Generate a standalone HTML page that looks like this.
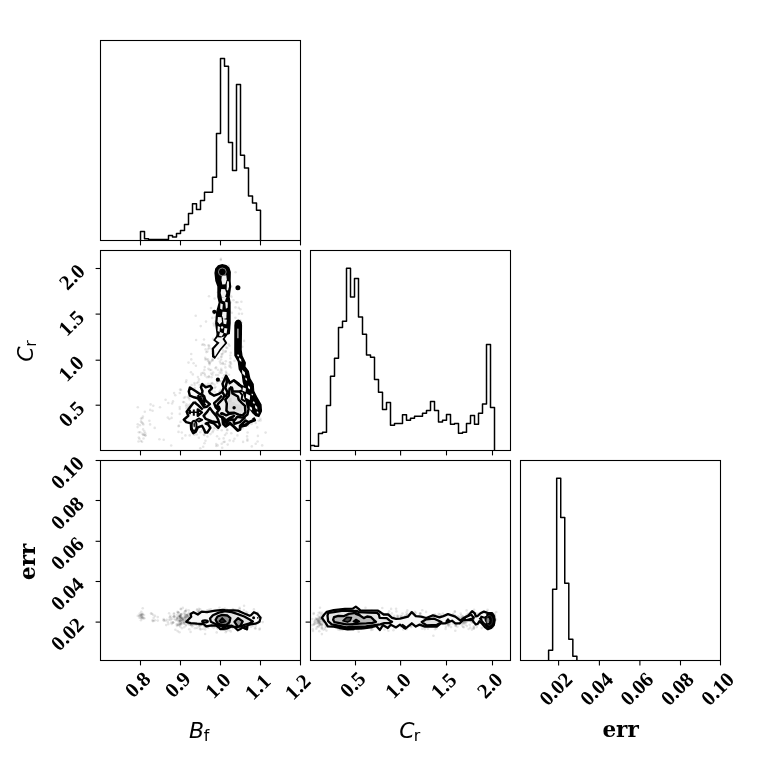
<!DOCTYPE html>
<html lang="en"><head><meta charset="utf-8"><title>Corner plot</title>
<style>html,body{margin:0;padding:0;background:#fff}svg{display:block}</style>
</head><body>
<svg width="760" height="760" viewBox="0 0 760 760">
<rect width="760" height="760" fill="#fff"/>
<defs>
<clipPath id="cp-h1"><rect x="100.5" y="40.5" width="200.0" height="200.0"/></clipPath>
<clipPath id="cp-c10"><rect x="100.5" y="250.5" width="200.0" height="200.0"/></clipPath>
<clipPath id="cp-h2"><rect x="310.5" y="250.5" width="200.0" height="200.0"/></clipPath>
<clipPath id="cp-c20"><rect x="100.5" y="460.5" width="200.0" height="200.0"/></clipPath>
<clipPath id="cp-c21"><rect x="310.5" y="460.5" width="200.0" height="200.0"/></clipPath>
<clipPath id="cp-h3"><rect x="520.5" y="460.5" width="200.0" height="200.0"/></clipPath>
</defs>
<g clip-path="url(#cp-c10)">
<g fill="#000" fill-opacity="0.1"><circle cx="160.0" cy="407.2" r="1.3"/><circle cx="172.1" cy="403.5" r="1.3"/><circle cx="167.8" cy="417.6" r="1.3"/><circle cx="150.1" cy="424.4" r="1.3"/><circle cx="149.4" cy="420.8" r="1.3"/><circle cx="150.6" cy="404.4" r="1.3"/><circle cx="163.7" cy="439.7" r="1.3"/><circle cx="152.6" cy="410.7" r="1.3"/><circle cx="171.2" cy="445.5" r="1.3"/><circle cx="169.4" cy="419.0" r="1.3"/><circle cx="184.1" cy="402.2" r="1.3"/><circle cx="179.8" cy="413.9" r="1.3"/><circle cx="153.3" cy="405.7" r="1.3"/><circle cx="159.4" cy="439.2" r="1.3"/><circle cx="154.7" cy="427.9" r="1.3"/><circle cx="171.6" cy="417.9" r="1.3"/><circle cx="168.3" cy="403.0" r="1.3"/><circle cx="150.2" cy="409.9" r="1.3"/></g>
<g fill="#000" fill-opacity="0.1"><circle cx="141.0" cy="421.4" r="1.3"/><circle cx="140.9" cy="441.0" r="1.3"/><circle cx="140.2" cy="432.2" r="1.3"/><circle cx="142.9" cy="416.6" r="1.3"/><circle cx="142.1" cy="441.8" r="1.3"/><circle cx="137.6" cy="427.1" r="1.3"/><circle cx="141.8" cy="422.6" r="1.3"/><circle cx="143.1" cy="429.4" r="1.3"/><circle cx="138.8" cy="437.5" r="1.3"/><circle cx="143.5" cy="438.5" r="1.3"/><circle cx="145.2" cy="433.3" r="1.3"/><circle cx="142.3" cy="418.3" r="1.3"/><circle cx="143.4" cy="424.5" r="1.3"/><circle cx="141.0" cy="418.6" r="1.3"/><circle cx="139.9" cy="425.2" r="1.3"/><circle cx="144.8" cy="411.7" r="1.3"/><circle cx="138.8" cy="432.2" r="1.3"/><circle cx="145.2" cy="435.2" r="1.3"/><circle cx="137.8" cy="407.3" r="1.3"/><circle cx="142.8" cy="423.4" r="1.3"/><circle cx="139.5" cy="438.8" r="1.3"/><circle cx="144.4" cy="431.4" r="1.3"/><circle cx="142.5" cy="433.9" r="1.3"/><circle cx="145.5" cy="435.6" r="1.3"/><circle cx="143.1" cy="434.9" r="1.3"/><circle cx="138.5" cy="441.5" r="1.3"/><circle cx="144.1" cy="434.8" r="1.3"/><circle cx="137.7" cy="424.3" r="1.3"/></g>
<g fill="#000" fill-opacity="0.1"><circle cx="226.3" cy="377.2" r="1.3"/><circle cx="208.9" cy="425.3" r="1.3"/><circle cx="189.7" cy="435.4" r="1.3"/><circle cx="221.4" cy="405.4" r="1.3"/><circle cx="217.5" cy="419.0" r="1.3"/><circle cx="214.0" cy="427.5" r="1.3"/><circle cx="200.8" cy="400.9" r="1.3"/><circle cx="229.7" cy="408.5" r="1.3"/><circle cx="197.0" cy="424.1" r="1.3"/><circle cx="236.9" cy="400.4" r="1.3"/><circle cx="188.5" cy="405.7" r="1.3"/><circle cx="209.5" cy="402.9" r="1.3"/><circle cx="235.9" cy="390.5" r="1.3"/><circle cx="233.4" cy="386.4" r="1.3"/><circle cx="198.6" cy="418.7" r="1.3"/><circle cx="231.2" cy="422.6" r="1.3"/><circle cx="217.9" cy="410.4" r="1.3"/><circle cx="214.6" cy="417.8" r="1.3"/><circle cx="209.0" cy="412.7" r="1.3"/><circle cx="221.7" cy="408.0" r="1.3"/><circle cx="225.0" cy="417.6" r="1.3"/><circle cx="246.2" cy="413.5" r="1.3"/><circle cx="204.7" cy="401.7" r="1.3"/><circle cx="211.8" cy="423.7" r="1.3"/><circle cx="206.3" cy="414.6" r="1.3"/><circle cx="243.2" cy="364.4" r="1.3"/><circle cx="192.9" cy="412.1" r="1.3"/><circle cx="218.8" cy="412.1" r="1.3"/><circle cx="204.7" cy="419.1" r="1.3"/><circle cx="216.8" cy="399.1" r="1.3"/><circle cx="253.3" cy="414.0" r="1.3"/><circle cx="202.6" cy="406.3" r="1.3"/><circle cx="208.2" cy="406.9" r="1.3"/><circle cx="165.6" cy="399.7" r="1.3"/><circle cx="229.1" cy="388.1" r="1.3"/><circle cx="210.9" cy="424.2" r="1.3"/><circle cx="226.6" cy="433.3" r="1.3"/><circle cx="183.1" cy="402.0" r="1.3"/><circle cx="206.2" cy="418.6" r="1.3"/><circle cx="230.6" cy="362.4" r="1.3"/><circle cx="230.5" cy="383.4" r="1.3"/><circle cx="223.6" cy="382.6" r="1.3"/><circle cx="215.0" cy="428.3" r="1.3"/><circle cx="209.5" cy="411.2" r="1.3"/><circle cx="225.6" cy="410.4" r="1.3"/><circle cx="210.5" cy="434.1" r="1.3"/><circle cx="229.8" cy="403.0" r="1.3"/><circle cx="227.5" cy="403.5" r="1.3"/><circle cx="214.3" cy="420.0" r="1.3"/><circle cx="215.8" cy="418.9" r="1.3"/><circle cx="186.0" cy="382.3" r="1.3"/><circle cx="222.5" cy="391.6" r="1.3"/><circle cx="194.5" cy="383.0" r="1.3"/><circle cx="233.5" cy="420.7" r="1.3"/><circle cx="237.0" cy="392.1" r="1.3"/><circle cx="212.0" cy="388.6" r="1.3"/><circle cx="225.0" cy="435.0" r="1.3"/><circle cx="196.9" cy="434.5" r="1.3"/><circle cx="228.8" cy="405.0" r="1.3"/><circle cx="178.5" cy="431.9" r="1.3"/><circle cx="210.4" cy="397.8" r="1.3"/><circle cx="218.8" cy="415.0" r="1.3"/><circle cx="237.5" cy="390.7" r="1.3"/><circle cx="231.3" cy="433.3" r="1.3"/><circle cx="236.7" cy="404.9" r="1.3"/><circle cx="199.4" cy="425.3" r="1.3"/><circle cx="214.0" cy="410.1" r="1.3"/><circle cx="236.2" cy="403.5" r="1.3"/><circle cx="173.0" cy="401.4" r="1.3"/><circle cx="180.5" cy="421.9" r="1.3"/><circle cx="217.4" cy="397.6" r="1.3"/><circle cx="211.8" cy="422.2" r="1.3"/><circle cx="213.3" cy="430.6" r="1.3"/><circle cx="211.0" cy="425.7" r="1.3"/><circle cx="237.4" cy="435.4" r="1.3"/><circle cx="200.6" cy="423.0" r="1.3"/><circle cx="180.1" cy="389.6" r="1.3"/><circle cx="178.6" cy="426.2" r="1.3"/><circle cx="191.1" cy="407.8" r="1.3"/><circle cx="208.7" cy="407.5" r="1.3"/><circle cx="201.9" cy="412.0" r="1.3"/><circle cx="242.5" cy="408.8" r="1.3"/><circle cx="221.0" cy="425.0" r="1.3"/><circle cx="208.6" cy="386.6" r="1.3"/><circle cx="202.6" cy="426.3" r="1.3"/><circle cx="184.0" cy="397.8" r="1.3"/><circle cx="229.1" cy="421.5" r="1.3"/><circle cx="212.1" cy="421.7" r="1.3"/><circle cx="214.8" cy="388.0" r="1.3"/><circle cx="185.4" cy="397.1" r="1.3"/><circle cx="227.7" cy="398.4" r="1.3"/><circle cx="196.7" cy="394.9" r="1.3"/><circle cx="186.0" cy="406.0" r="1.3"/><circle cx="191.9" cy="414.2" r="1.3"/><circle cx="171.9" cy="413.6" r="1.3"/><circle cx="201.1" cy="375.0" r="1.3"/><circle cx="224.3" cy="403.3" r="1.3"/><circle cx="174.1" cy="393.1" r="1.3"/><circle cx="216.9" cy="400.2" r="1.3"/><circle cx="225.3" cy="420.7" r="1.3"/><circle cx="223.3" cy="413.6" r="1.3"/><circle cx="234.7" cy="419.2" r="1.3"/><circle cx="219.7" cy="372.6" r="1.3"/><circle cx="227.2" cy="430.3" r="1.3"/><circle cx="207.0" cy="400.0" r="1.3"/><circle cx="245.0" cy="378.1" r="1.3"/><circle cx="196.2" cy="419.7" r="1.3"/><circle cx="244.1" cy="406.0" r="1.3"/><circle cx="221.5" cy="423.3" r="1.3"/><circle cx="196.6" cy="406.5" r="1.3"/><circle cx="217.0" cy="422.0" r="1.3"/><circle cx="211.4" cy="404.7" r="1.3"/><circle cx="194.7" cy="401.9" r="1.3"/><circle cx="227.2" cy="409.7" r="1.3"/><circle cx="197.5" cy="393.7" r="1.3"/><circle cx="257.3" cy="427.4" r="1.3"/><circle cx="222.8" cy="363.9" r="1.3"/><circle cx="222.6" cy="416.2" r="1.3"/><circle cx="240.6" cy="415.3" r="1.3"/><circle cx="210.9" cy="416.9" r="1.3"/><circle cx="178.9" cy="425.6" r="1.3"/><circle cx="217.5" cy="396.1" r="1.3"/><circle cx="234.5" cy="438.8" r="1.3"/><circle cx="188.2" cy="396.7" r="1.3"/><circle cx="217.0" cy="411.1" r="1.3"/><circle cx="205.2" cy="391.4" r="1.3"/><circle cx="248.0" cy="425.6" r="1.3"/><circle cx="191.7" cy="385.1" r="1.3"/><circle cx="241.0" cy="424.8" r="1.3"/><circle cx="243.0" cy="421.8" r="1.3"/><circle cx="197.2" cy="412.4" r="1.3"/><circle cx="175.3" cy="395.3" r="1.3"/><circle cx="211.0" cy="416.9" r="1.3"/><circle cx="199.6" cy="405.9" r="1.3"/><circle cx="219.8" cy="414.4" r="1.3"/><circle cx="222.8" cy="411.6" r="1.3"/><circle cx="206.5" cy="421.4" r="1.3"/><circle cx="212.8" cy="394.0" r="1.3"/><circle cx="201.4" cy="408.0" r="1.3"/><circle cx="210.1" cy="410.7" r="1.3"/><circle cx="212.0" cy="411.0" r="1.3"/><circle cx="209.7" cy="386.6" r="1.3"/><circle cx="219.2" cy="425.9" r="1.3"/><circle cx="219.4" cy="404.8" r="1.3"/><circle cx="219.6" cy="391.6" r="1.3"/><circle cx="179.8" cy="409.0" r="1.3"/><circle cx="196.2" cy="420.6" r="1.3"/><circle cx="193.6" cy="363.3" r="1.3"/><circle cx="194.3" cy="434.8" r="1.3"/><circle cx="205.5" cy="384.7" r="1.3"/><circle cx="199.0" cy="416.9" r="1.3"/><circle cx="220.4" cy="411.0" r="1.3"/><circle cx="237.2" cy="420.0" r="1.3"/><circle cx="211.6" cy="418.1" r="1.3"/><circle cx="240.1" cy="424.5" r="1.3"/><circle cx="229.4" cy="389.6" r="1.3"/><circle cx="209.5" cy="420.4" r="1.3"/><circle cx="207.0" cy="426.2" r="1.3"/><circle cx="222.1" cy="423.4" r="1.3"/><circle cx="233.1" cy="404.3" r="1.3"/><circle cx="206.2" cy="422.9" r="1.3"/><circle cx="228.7" cy="408.1" r="1.3"/><circle cx="192.2" cy="411.2" r="1.3"/><circle cx="218.1" cy="427.2" r="1.3"/><circle cx="225.3" cy="408.4" r="1.3"/><circle cx="226.5" cy="417.2" r="1.3"/><circle cx="215.5" cy="408.9" r="1.3"/><circle cx="207.9" cy="419.7" r="1.3"/><circle cx="194.1" cy="397.3" r="1.3"/><circle cx="212.1" cy="383.1" r="1.3"/><circle cx="204.6" cy="373.8" r="1.3"/><circle cx="200.4" cy="417.7" r="1.3"/><circle cx="221.6" cy="407.1" r="1.3"/><circle cx="208.1" cy="383.9" r="1.3"/><circle cx="243.1" cy="416.8" r="1.3"/><circle cx="230.6" cy="393.0" r="1.3"/><circle cx="208.9" cy="377.1" r="1.3"/><circle cx="225.3" cy="423.9" r="1.3"/><circle cx="179.7" cy="407.1" r="1.3"/><circle cx="222.7" cy="378.0" r="1.3"/><circle cx="181.0" cy="389.9" r="1.3"/><circle cx="201.3" cy="384.2" r="1.3"/><circle cx="212.5" cy="412.2" r="1.3"/><circle cx="222.8" cy="419.9" r="1.3"/><circle cx="237.5" cy="427.8" r="1.3"/><circle cx="189.7" cy="399.4" r="1.3"/><circle cx="194.0" cy="389.7" r="1.3"/><circle cx="210.6" cy="408.1" r="1.3"/><circle cx="220.3" cy="381.0" r="1.3"/><circle cx="191.0" cy="407.6" r="1.3"/><circle cx="208.6" cy="402.7" r="1.3"/><circle cx="210.9" cy="395.1" r="1.3"/><circle cx="223.9" cy="414.0" r="1.3"/><circle cx="210.5" cy="396.6" r="1.3"/><circle cx="209.0" cy="361.7" r="1.3"/><circle cx="195.3" cy="408.6" r="1.3"/><circle cx="186.4" cy="411.4" r="1.3"/><circle cx="214.5" cy="384.6" r="1.3"/><circle cx="207.7" cy="402.7" r="1.3"/><circle cx="219.8" cy="418.4" r="1.3"/><circle cx="211.4" cy="393.5" r="1.3"/><circle cx="209.5" cy="406.9" r="1.3"/><circle cx="224.5" cy="413.0" r="1.3"/><circle cx="199.7" cy="385.0" r="1.3"/><circle cx="205.7" cy="395.4" r="1.3"/><circle cx="193.1" cy="406.0" r="1.3"/><circle cx="203.7" cy="409.8" r="1.3"/><circle cx="220.9" cy="401.0" r="1.3"/><circle cx="251.5" cy="402.5" r="1.3"/><circle cx="230.7" cy="410.1" r="1.3"/><circle cx="231.0" cy="367.6" r="1.3"/><circle cx="199.2" cy="412.2" r="1.3"/><circle cx="222.2" cy="447.7" r="1.3"/><circle cx="217.5" cy="429.8" r="1.3"/><circle cx="225.0" cy="424.1" r="1.3"/><circle cx="220.7" cy="405.3" r="1.3"/><circle cx="220.7" cy="389.7" r="1.3"/><circle cx="232.1" cy="390.7" r="1.3"/><circle cx="216.2" cy="444.1" r="1.3"/><circle cx="208.2" cy="408.3" r="1.3"/><circle cx="231.8" cy="408.4" r="1.3"/><circle cx="198.3" cy="412.4" r="1.3"/><circle cx="221.9" cy="420.1" r="1.3"/><circle cx="198.9" cy="437.8" r="1.3"/><circle cx="240.3" cy="408.3" r="1.3"/><circle cx="216.6" cy="400.7" r="1.3"/><circle cx="236.0" cy="396.0" r="1.3"/><circle cx="223.5" cy="399.8" r="1.3"/><circle cx="200.2" cy="420.2" r="1.3"/><circle cx="234.7" cy="407.8" r="1.3"/><circle cx="200.5" cy="421.8" r="1.3"/><circle cx="211.2" cy="413.3" r="1.3"/><circle cx="237.9" cy="427.2" r="1.3"/><circle cx="203.2" cy="446.8" r="1.3"/><circle cx="212.1" cy="421.4" r="1.3"/><circle cx="201.0" cy="407.2" r="1.3"/><circle cx="182.3" cy="438.4" r="1.3"/><circle cx="235.2" cy="387.3" r="1.3"/><circle cx="186.4" cy="380.4" r="1.3"/><circle cx="232.0" cy="400.2" r="1.3"/><circle cx="211.0" cy="402.7" r="1.3"/><circle cx="209.9" cy="389.5" r="1.3"/><circle cx="212.4" cy="383.6" r="1.3"/><circle cx="210.8" cy="413.2" r="1.3"/><circle cx="219.9" cy="404.1" r="1.3"/><circle cx="196.6" cy="410.7" r="1.3"/><circle cx="203.8" cy="434.6" r="1.3"/><circle cx="225.1" cy="406.0" r="1.3"/><circle cx="204.0" cy="396.1" r="1.3"/><circle cx="196.1" cy="402.0" r="1.3"/><circle cx="217.0" cy="416.8" r="1.3"/><circle cx="221.7" cy="443.7" r="1.3"/><circle cx="200.0" cy="408.2" r="1.3"/><circle cx="203.1" cy="410.9" r="1.3"/><circle cx="214.6" cy="414.9" r="1.3"/><circle cx="207.9" cy="414.2" r="1.3"/><circle cx="212.9" cy="421.1" r="1.3"/><circle cx="179.8" cy="393.0" r="1.3"/><circle cx="212.0" cy="390.5" r="1.3"/><circle cx="194.2" cy="418.7" r="1.3"/><circle cx="201.0" cy="418.8" r="1.3"/><circle cx="224.7" cy="413.2" r="1.3"/><circle cx="220.6" cy="406.2" r="1.3"/><circle cx="188.0" cy="407.5" r="1.3"/><circle cx="219.7" cy="399.0" r="1.3"/><circle cx="210.3" cy="420.7" r="1.3"/><circle cx="197.1" cy="418.9" r="1.3"/><circle cx="243.7" cy="398.6" r="1.3"/><circle cx="214.5" cy="405.4" r="1.3"/><circle cx="238.2" cy="413.4" r="1.3"/><circle cx="227.3" cy="396.3" r="1.3"/><circle cx="211.7" cy="407.8" r="1.3"/><circle cx="181.8" cy="432.5" r="1.3"/><circle cx="227.3" cy="378.3" r="1.3"/><circle cx="224.7" cy="405.8" r="1.3"/><circle cx="219.6" cy="414.2" r="1.3"/><circle cx="186.5" cy="404.4" r="1.3"/><circle cx="237.4" cy="398.2" r="1.3"/><circle cx="194.6" cy="384.9" r="1.3"/><circle cx="191.2" cy="413.7" r="1.3"/><circle cx="240.8" cy="415.3" r="1.3"/><circle cx="216.2" cy="446.0" r="1.3"/><circle cx="203.2" cy="396.5" r="1.3"/><circle cx="221.0" cy="417.3" r="1.3"/><circle cx="194.7" cy="388.1" r="1.3"/><circle cx="216.9" cy="412.2" r="1.3"/><circle cx="189.8" cy="404.6" r="1.3"/><circle cx="202.8" cy="415.8" r="1.3"/><circle cx="210.0" cy="406.5" r="1.3"/><circle cx="206.0" cy="425.9" r="1.3"/><circle cx="235.6" cy="401.8" r="1.3"/><circle cx="226.4" cy="395.1" r="1.3"/><circle cx="213.2" cy="420.7" r="1.3"/><circle cx="237.7" cy="401.5" r="1.3"/><circle cx="210.7" cy="411.3" r="1.3"/><circle cx="186.5" cy="408.3" r="1.3"/><circle cx="200.5" cy="414.3" r="1.3"/><circle cx="192.8" cy="374.4" r="1.3"/><circle cx="212.7" cy="412.4" r="1.3"/><circle cx="202.7" cy="423.1" r="1.3"/><circle cx="207.4" cy="397.7" r="1.3"/><circle cx="220.1" cy="381.3" r="1.3"/><circle cx="200.5" cy="407.6" r="1.3"/><circle cx="226.4" cy="405.2" r="1.3"/><circle cx="217.2" cy="396.9" r="1.3"/><circle cx="217.1" cy="436.3" r="1.3"/><circle cx="200.3" cy="448.2" r="1.3"/><circle cx="201.1" cy="408.3" r="1.3"/><circle cx="214.9" cy="425.4" r="1.3"/><circle cx="191.0" cy="372.3" r="1.3"/><circle cx="222.3" cy="421.5" r="1.3"/><circle cx="215.5" cy="412.3" r="1.3"/><circle cx="227.8" cy="414.3" r="1.3"/><circle cx="240.3" cy="386.9" r="1.3"/><circle cx="205.6" cy="349.4" r="1.3"/><circle cx="225.8" cy="401.7" r="1.3"/><circle cx="227.7" cy="444.6" r="1.3"/><circle cx="211.9" cy="403.7" r="1.3"/><circle cx="203.5" cy="393.8" r="1.3"/><circle cx="201.3" cy="418.9" r="1.3"/><circle cx="212.6" cy="409.1" r="1.3"/><circle cx="209.1" cy="423.5" r="1.3"/><circle cx="220.4" cy="405.6" r="1.3"/><circle cx="223.3" cy="405.4" r="1.3"/><circle cx="192.4" cy="432.7" r="1.3"/><circle cx="219.9" cy="391.7" r="1.3"/><circle cx="230.3" cy="413.9" r="1.3"/><circle cx="185.4" cy="435.4" r="1.3"/><circle cx="217.7" cy="423.2" r="1.3"/><circle cx="215.4" cy="405.5" r="1.3"/></g>
<g fill="#000" fill-opacity="0.1"><circle cx="199.0" cy="379.4" r="1.3"/><circle cx="216.3" cy="354.3" r="1.3"/><circle cx="219.9" cy="361.6" r="1.3"/><circle cx="223.4" cy="352.6" r="1.3"/><circle cx="215.6" cy="317.2" r="1.3"/><circle cx="211.3" cy="373.5" r="1.3"/><circle cx="230.7" cy="352.7" r="1.3"/><circle cx="214.7" cy="391.7" r="1.3"/><circle cx="212.4" cy="374.7" r="1.3"/><circle cx="234.5" cy="360.8" r="1.3"/><circle cx="229.5" cy="345.8" r="1.3"/><circle cx="218.3" cy="358.5" r="1.3"/><circle cx="217.3" cy="382.6" r="1.3"/><circle cx="242.3" cy="346.7" r="1.3"/><circle cx="209.7" cy="369.9" r="1.3"/><circle cx="204.4" cy="369.9" r="1.3"/><circle cx="222.3" cy="354.4" r="1.3"/><circle cx="221.8" cy="329.0" r="1.3"/><circle cx="224.4" cy="329.1" r="1.3"/><circle cx="208.3" cy="348.9" r="1.3"/><circle cx="211.6" cy="377.2" r="1.3"/><circle cx="216.9" cy="352.1" r="1.3"/><circle cx="222.0" cy="391.6" r="1.3"/><circle cx="216.1" cy="367.3" r="1.3"/><circle cx="229.6" cy="365.4" r="1.3"/><circle cx="201.9" cy="409.8" r="1.3"/><circle cx="240.3" cy="320.3" r="1.3"/><circle cx="215.6" cy="368.3" r="1.3"/><circle cx="226.6" cy="373.4" r="1.3"/><circle cx="213.0" cy="338.9" r="1.3"/><circle cx="217.1" cy="380.7" r="1.3"/><circle cx="204.0" cy="339.5" r="1.3"/><circle cx="215.7" cy="321.3" r="1.3"/><circle cx="213.1" cy="351.3" r="1.3"/><circle cx="221.0" cy="346.0" r="1.3"/><circle cx="206.3" cy="352.1" r="1.3"/><circle cx="215.5" cy="346.7" r="1.3"/><circle cx="216.1" cy="375.0" r="1.3"/><circle cx="229.0" cy="394.1" r="1.3"/><circle cx="207.4" cy="351.6" r="1.3"/><circle cx="188.7" cy="398.0" r="1.3"/><circle cx="208.0" cy="359.3" r="1.3"/><circle cx="221.7" cy="332.8" r="1.3"/><circle cx="221.1" cy="359.5" r="1.3"/><circle cx="195.9" cy="365.8" r="1.3"/><circle cx="229.1" cy="322.6" r="1.3"/><circle cx="224.9" cy="364.2" r="1.3"/><circle cx="221.2" cy="368.8" r="1.3"/><circle cx="230.3" cy="355.5" r="1.3"/><circle cx="225.6" cy="351.8" r="1.3"/><circle cx="224.0" cy="343.7" r="1.3"/><circle cx="214.8" cy="394.6" r="1.3"/><circle cx="220.9" cy="356.8" r="1.3"/><circle cx="203.4" cy="344.2" r="1.3"/><circle cx="218.1" cy="378.8" r="1.3"/><circle cx="220.7" cy="370.5" r="1.3"/><circle cx="215.5" cy="387.0" r="1.3"/><circle cx="211.7" cy="349.0" r="1.3"/><circle cx="225.8" cy="361.3" r="1.3"/><circle cx="212.9" cy="348.5" r="1.3"/><circle cx="213.2" cy="372.5" r="1.3"/><circle cx="219.9" cy="335.8" r="1.3"/><circle cx="220.7" cy="363.6" r="1.3"/><circle cx="205.0" cy="375.5" r="1.3"/><circle cx="212.9" cy="353.3" r="1.3"/><circle cx="224.8" cy="386.4" r="1.3"/><circle cx="208.4" cy="368.8" r="1.3"/><circle cx="206.4" cy="406.3" r="1.3"/><circle cx="210.6" cy="383.9" r="1.3"/><circle cx="208.9" cy="376.2" r="1.3"/><circle cx="240.4" cy="309.2" r="1.3"/><circle cx="211.2" cy="370.0" r="1.3"/><circle cx="215.0" cy="346.6" r="1.3"/><circle cx="239.7" cy="361.6" r="1.3"/><circle cx="197.9" cy="377.1" r="1.3"/><circle cx="197.1" cy="383.0" r="1.3"/><circle cx="209.6" cy="362.9" r="1.3"/><circle cx="229.9" cy="362.4" r="1.3"/><circle cx="200.7" cy="326.1" r="1.3"/><circle cx="229.0" cy="374.8" r="1.3"/><circle cx="207.0" cy="377.2" r="1.3"/><circle cx="221.5" cy="373.0" r="1.3"/><circle cx="191.2" cy="354.0" r="1.3"/><circle cx="225.9" cy="374.7" r="1.3"/><circle cx="225.7" cy="310.9" r="1.3"/><circle cx="217.9" cy="369.8" r="1.3"/><circle cx="244.1" cy="340.9" r="1.3"/><circle cx="212.4" cy="360.7" r="1.3"/><circle cx="225.7" cy="351.1" r="1.3"/><circle cx="228.6" cy="344.2" r="1.3"/><circle cx="218.9" cy="349.5" r="1.3"/><circle cx="217.7" cy="346.2" r="1.3"/><circle cx="198.4" cy="381.9" r="1.3"/><circle cx="219.3" cy="348.8" r="1.3"/><circle cx="218.2" cy="379.8" r="1.3"/><circle cx="205.2" cy="357.8" r="1.3"/><circle cx="221.9" cy="370.5" r="1.3"/><circle cx="212.3" cy="317.9" r="1.3"/><circle cx="229.7" cy="366.6" r="1.3"/><circle cx="216.1" cy="354.4" r="1.3"/><circle cx="218.9" cy="351.5" r="1.3"/><circle cx="204.7" cy="345.2" r="1.3"/><circle cx="209.4" cy="347.8" r="1.3"/><circle cx="203.3" cy="372.7" r="1.3"/><circle cx="201.6" cy="373.2" r="1.3"/><circle cx="204.8" cy="367.0" r="1.3"/><circle cx="231.1" cy="364.1" r="1.3"/><circle cx="208.0" cy="361.0" r="1.3"/><circle cx="217.6" cy="325.3" r="1.3"/><circle cx="209.3" cy="363.3" r="1.3"/><circle cx="210.8" cy="361.6" r="1.3"/><circle cx="224.1" cy="375.3" r="1.3"/><circle cx="226.0" cy="371.8" r="1.3"/><circle cx="212.8" cy="359.6" r="1.3"/><circle cx="213.0" cy="353.7" r="1.3"/><circle cx="214.0" cy="325.5" r="1.3"/><circle cx="212.3" cy="359.5" r="1.3"/><circle cx="205.3" cy="359.5" r="1.3"/><circle cx="221.7" cy="356.7" r="1.3"/><circle cx="238.8" cy="307.9" r="1.3"/><circle cx="213.7" cy="323.5" r="1.3"/><circle cx="226.8" cy="413.1" r="1.3"/><circle cx="188.5" cy="362.6" r="1.3"/><circle cx="221.7" cy="354.0" r="1.3"/><circle cx="222.1" cy="315.1" r="1.3"/><circle cx="225.4" cy="367.4" r="1.3"/><circle cx="216.3" cy="348.2" r="1.3"/><circle cx="223.0" cy="350.3" r="1.3"/><circle cx="218.5" cy="349.8" r="1.3"/><circle cx="191.3" cy="359.4" r="1.3"/><circle cx="218.2" cy="375.1" r="1.3"/><circle cx="206.4" cy="359.3" r="1.3"/><circle cx="222.8" cy="362.9" r="1.3"/><circle cx="229.7" cy="399.8" r="1.3"/><circle cx="206.0" cy="321.6" r="1.3"/><circle cx="225.4" cy="390.6" r="1.3"/><circle cx="226.1" cy="376.3" r="1.3"/><circle cx="209.2" cy="345.7" r="1.3"/><circle cx="225.8" cy="341.8" r="1.3"/><circle cx="196.1" cy="340.0" r="1.3"/><circle cx="243.4" cy="398.5" r="1.3"/><circle cx="208.4" cy="345.4" r="1.3"/><circle cx="218.5" cy="345.0" r="1.3"/><circle cx="230.4" cy="358.4" r="1.3"/><circle cx="204.1" cy="386.2" r="1.3"/><circle cx="209.6" cy="364.4" r="1.3"/><circle cx="215.9" cy="353.7" r="1.3"/><circle cx="219.6" cy="346.2" r="1.3"/><circle cx="195.7" cy="315.8" r="1.3"/><circle cx="202.1" cy="344.8" r="1.3"/></g>
<g fill="#000" fill-opacity="0.1"><circle cx="225.8" cy="301.2" r="1.3"/><circle cx="230.4" cy="302.6" r="1.3"/><circle cx="219.7" cy="284.4" r="1.3"/><circle cx="209.0" cy="296.3" r="1.3"/><circle cx="229.9" cy="311.7" r="1.3"/><circle cx="225.0" cy="296.2" r="1.3"/><circle cx="233.5" cy="300.3" r="1.3"/><circle cx="231.9" cy="312.8" r="1.3"/><circle cx="227.7" cy="328.7" r="1.3"/><circle cx="221.4" cy="292.1" r="1.3"/><circle cx="219.5" cy="282.5" r="1.3"/><circle cx="238.4" cy="338.7" r="1.3"/><circle cx="226.2" cy="312.5" r="1.3"/><circle cx="235.4" cy="317.8" r="1.3"/><circle cx="235.6" cy="272.2" r="1.3"/><circle cx="220.9" cy="310.0" r="1.3"/><circle cx="237.5" cy="302.3" r="1.3"/><circle cx="219.1" cy="292.2" r="1.3"/><circle cx="220.7" cy="281.1" r="1.3"/><circle cx="238.0" cy="286.2" r="1.3"/><circle cx="226.2" cy="347.6" r="1.3"/><circle cx="235.5" cy="307.4" r="1.3"/><circle cx="221.1" cy="309.0" r="1.3"/><circle cx="239.0" cy="313.7" r="1.3"/><circle cx="236.1" cy="302.2" r="1.3"/><circle cx="230.1" cy="295.6" r="1.3"/><circle cx="229.4" cy="328.6" r="1.3"/><circle cx="214.6" cy="298.6" r="1.3"/><circle cx="227.9" cy="287.4" r="1.3"/><circle cx="223.5" cy="317.3" r="1.3"/><circle cx="242.0" cy="313.8" r="1.3"/><circle cx="228.6" cy="265.9" r="1.3"/><circle cx="241.4" cy="301.7" r="1.3"/><circle cx="225.7" cy="275.4" r="1.3"/><circle cx="225.5" cy="275.9" r="1.3"/><circle cx="226.6" cy="310.3" r="1.3"/><circle cx="226.2" cy="306.2" r="1.3"/><circle cx="219.2" cy="331.5" r="1.3"/><circle cx="220.8" cy="260.0" r="1.3"/><circle cx="224.5" cy="283.2" r="1.3"/><circle cx="217.9" cy="292.2" r="1.3"/><circle cx="228.3" cy="274.0" r="1.3"/><circle cx="224.9" cy="331.4" r="1.3"/><circle cx="231.5" cy="296.7" r="1.3"/><circle cx="227.0" cy="297.4" r="1.3"/><circle cx="225.6" cy="316.1" r="1.3"/><circle cx="225.3" cy="247.1" r="1.3"/><circle cx="225.8" cy="280.4" r="1.3"/><circle cx="231.2" cy="286.6" r="1.3"/><circle cx="227.2" cy="347.9" r="1.3"/><circle cx="217.6" cy="275.3" r="1.3"/><circle cx="214.7" cy="247.3" r="1.3"/><circle cx="211.0" cy="308.0" r="1.3"/><circle cx="220.9" cy="258.9" r="1.3"/><circle cx="214.1" cy="313.6" r="1.3"/><circle cx="219.8" cy="291.9" r="1.3"/><circle cx="228.6" cy="329.8" r="1.3"/><circle cx="241.5" cy="322.7" r="1.3"/><circle cx="227.1" cy="304.1" r="1.3"/><circle cx="240.4" cy="331.4" r="1.3"/></g>
<g fill="#000" fill-opacity="0.1"><circle cx="223.5" cy="422.1" r="1.3"/><circle cx="202.0" cy="419.2" r="1.3"/><circle cx="247.1" cy="436.4" r="1.3"/><circle cx="247.4" cy="439.4" r="1.3"/><circle cx="204.5" cy="435.1" r="1.3"/><circle cx="224.7" cy="441.7" r="1.3"/><circle cx="255.7" cy="443.8" r="1.3"/><circle cx="204.5" cy="443.2" r="1.3"/><circle cx="262.2" cy="445.4" r="1.3"/><circle cx="207.3" cy="424.0" r="1.3"/><circle cx="207.6" cy="419.0" r="1.3"/><circle cx="257.6" cy="441.5" r="1.3"/><circle cx="243.1" cy="441.9" r="1.3"/><circle cx="242.9" cy="426.3" r="1.3"/><circle cx="206.8" cy="420.8" r="1.3"/><circle cx="251.5" cy="423.9" r="1.3"/><circle cx="221.7" cy="430.3" r="1.3"/><circle cx="201.4" cy="425.4" r="1.3"/><circle cx="219.2" cy="438.8" r="1.3"/><circle cx="225.0" cy="427.3" r="1.3"/><circle cx="265.6" cy="432.6" r="1.3"/><circle cx="257.9" cy="435.9" r="1.3"/><circle cx="202.1" cy="430.0" r="1.3"/><circle cx="229.7" cy="440.4" r="1.3"/><circle cx="223.6" cy="438.4" r="1.3"/><circle cx="236.6" cy="424.3" r="1.3"/><circle cx="258.6" cy="420.6" r="1.3"/><circle cx="255.7" cy="422.9" r="1.3"/><circle cx="200.1" cy="423.9" r="1.3"/><circle cx="251.8" cy="446.4" r="1.3"/><circle cx="200.3" cy="432.2" r="1.3"/><circle cx="233.4" cy="441.1" r="1.3"/><circle cx="212.5" cy="432.3" r="1.3"/><circle cx="223.6" cy="442.1" r="1.3"/><circle cx="217.7" cy="445.4" r="1.3"/><circle cx="219.3" cy="424.2" r="1.3"/><circle cx="247.6" cy="432.5" r="1.3"/><circle cx="207.5" cy="436.5" r="1.3"/><circle cx="205.5" cy="440.8" r="1.3"/><circle cx="247.4" cy="440.8" r="1.3"/><circle cx="242.7" cy="428.3" r="1.3"/><circle cx="227.3" cy="429.4" r="1.3"/><circle cx="260.5" cy="420.5" r="1.3"/><circle cx="260.4" cy="418.7" r="1.3"/><circle cx="214.0" cy="425.6" r="1.3"/></g>
<path d="M222.2,263.9L218.0,265.2L215.2,268.5L214.4,273.0L215.3,281.0L217.3,286.6L217.3,297.0L218.6,302.4L216.1,311.8L215.1,323.4L216.5,334.0L216.1,336.0L213.2,340.3L216.6,342.9L211.8,348.2L212.0,356.9L214.9,358.9L220.9,350.3L227.3,342.9L224.7,338.7L227.6,334.7L229.9,334.0L230.7,323.4L230.7,311.8L230.7,302.4L229.7,297.0L231.2,286.6L230.7,281.0L230.9,272.0L229.4,267.5L226.4,265.0Z" fill="#000" stroke="#000" stroke-width="0" stroke-linejoin="round"/>
<path d="M217.6,337.2L215.4,340.0L219.6,342.8L214.0,348.9L214.3,355.6L215.2,356.3L219.6,349.2L225.0,342.9L222.5,338.9L224.6,336.2L221.0,337.5Z" fill="#f7f7f7" stroke="#000" stroke-width="0" stroke-linejoin="round"/>
<path d="M221.8,276.0L226.3,275.2L226.8,279.4L225.4,284.2L222.3,284.5L221.4,280.0Z" fill="#f4f4f4" stroke="#000" stroke-width="0" stroke-linejoin="round"/>
<path d="M227.3,280.9L228.9,281.4L229.0,286.8L227.9,290.8L226.7,289.4L226.8,284.2Z" fill="#f4f4f4" stroke="#000" stroke-width="0" stroke-linejoin="round"/>
<path d="M221.3,288.9L225.1,289.3L226.3,293.0L224.9,297.4L221.7,296.9L220.7,293.0Z" fill="#f4f4f4" stroke="#000" stroke-width="0" stroke-linejoin="round"/>
<path d="M221.6,297.2L226.4,296.9L224.8,301.4L222.4,300.8Z" fill="#f4f4f4" stroke="#000" stroke-width="0" stroke-linejoin="round"/>
<path d="M225.2,301.8L227.8,302.6L227.6,307.8L225.9,308.8Z" fill="#f4f4f4" stroke="#000" stroke-width="0" stroke-linejoin="round"/>
<path d="M220.4,303.2L222.8,304.3L222.3,309.8L220.2,308.7Z" fill="#f4f4f4" stroke="#000" stroke-width="0" stroke-linejoin="round"/>
<path d="M222.5,311.7L226.6,312.0L226.4,318.3L223.2,319.1L222.0,315.6Z" fill="#f4f4f4" stroke="#000" stroke-width="0" stroke-linejoin="round"/>
<path d="M217.9,317.0L221.5,317.3L222.0,321.9L219.6,324.3L217.5,321.7Z" fill="#f4f4f4" stroke="#000" stroke-width="0" stroke-linejoin="round"/>
<path d="M222.9,319.0L226.9,319.8L226.2,324.2L223.6,323.7Z" fill="#f4f4f4" stroke="#000" stroke-width="0" stroke-linejoin="round"/>
<path d="M217.8,325.9L220.0,326.9L219.5,332.1L217.6,331.1Z" fill="#f4f4f4" stroke="#000" stroke-width="0" stroke-linejoin="round"/>
<path d="M224.4,328.0L227.3,328.5L226.6,333.4L223.9,332.7Z" fill="#f4f4f4" stroke="#000" stroke-width="0" stroke-linejoin="round"/>
<path d="M220.0,332.1L223.6,333.4L221.7,336.5L219.1,335.7Z" fill="#f4f4f4" stroke="#000" stroke-width="0" stroke-linejoin="round"/>
<circle cx="222.3" cy="271.9" r="3.9" fill="none" stroke="#9a9a9a" stroke-width="0.8"/>
<circle cx="222.1" cy="327.5" r="1.2" fill="#eee"/>
<circle cx="237.9" cy="287.8" r="2.5" fill="#000"/>
<circle cx="214.3" cy="311.8" r="2.1" fill="#000"/>
<path d="M188.9,388.0L196.0,391.5L201.9,389.8L203.7,386.2L201.3,383.8L203.1,383.3L206.6,386.8L210.8,385.6L212.0,387.4L209.0,390.4L209.6,393.3L213.8,395.1L219.1,393.3L222.0,390.9L220.9,383.8L222.6,380.3L225.6,376.1L228.6,379.7L229.1,383.8L233.9,380.9L238.0,383.8L241.6,387.4L244.5,389.8L248.7,395.7L252.2,402.8L255.8,409.9L257.0,415.8L254.6,415.8L253.4,419.4L248.7,421.7L246.3,426.5L241.6,427.7L238.0,430.0L234.5,427.1L232.1,424.1L227.4,427.1L224.4,425.3L223.2,419.4L219.7,422.9L219.1,430.0L215.5,427.7L208.4,424.1L209.6,430.0L207.2,433.6L204.3,432.4L203.1,427.7L198.9,428.8L195.4,433.6L191.8,433.6L190.7,427.7L183.6,420.6L188.9,411.1L194.8,402.2L198.9,404.6L195.4,397.5L190.7,395.1Z" fill="#fafafa" stroke="#000" stroke-width="0" stroke-linejoin="round"/>
<path d="M189.9,387.5L188.8,391.5L189.9,395.7L194.1,397.3L197.8,398.3L199.4,400.4L202.0,404.1L204.1,407.3L206.7,406.7L209.9,404.1L206.7,401.5L205.2,399.9L204.1,396.2L202.0,394.6L199.4,393.8L196.2,391.5Z" fill="#fafafa" stroke="#000" stroke-width="2.5" stroke-linejoin="round"/>
<path d="M197.8,395.2L200.4,399.4L203.1,403.6L205.7,405.2" fill="none" stroke="#000" stroke-width="2.5" stroke-linejoin="round"/>
<path d="M200.2,396.1L202.4,395.8L204.0,399.9L205.1,402.0L204.1,402.9L202.0,399.4Z" fill="#fff" stroke="#000" stroke-width="1.4" stroke-linejoin="round"/>
<path d="M202.0,393.8L202.5,390.9L200.9,387.3L202.3,384.1L205.7,387.3L210.4,385.9L212.0,388.1L209.1,391.2L209.9,393.1L214.1,395.7L218.8,393.8L222.0,392.0" fill="none" stroke="#000" stroke-width="2.5" stroke-linejoin="round"/>
<path d="M194.1,402.1L190.4,406.8L186.7,411.8L188.3,415.8L183.8,419.7L186.2,422.1L190.9,423.4L191.2,429.5L193.3,433.2L195.9,431.6L197.8,427.4L202.0,425.8L204.1,429.5L205.2,432.6L207.3,432.6L210.4,427.9L208.3,424.7L205.7,423.7L209.4,422.1L213.6,423.2L218.3,427.9L219.9,425.3L218.8,422.1" fill="none" stroke="#000" stroke-width="2.5" stroke-linejoin="round"/>
<path d="M194.1,402.1L198.8,405.8L202.8,409.7" fill="none" stroke="#000" stroke-width="2.5" stroke-linejoin="round"/>
<path d="M188.3,412.2L197.8,412.2" fill="none" stroke="#000" stroke-width="1.5" stroke-linejoin="round"/>
<path d="M189.9,409.7L189.9,414.2" fill="none" stroke="#000" stroke-width="2.0" stroke-linejoin="round"/>
<path d="M193.8,409.5L193.8,415.8" fill="none" stroke="#000" stroke-width="2.0" stroke-linejoin="round"/>
<path d="M197.8,409.5L201.9,412.4L197.8,415.8Z" fill="#fafafa" stroke="#000" stroke-width="2.5" stroke-linejoin="round"/>
<path d="M196.2,420.0L198.8,418.4L202.3,419.9L198.8,421.6Z" fill="#eee" stroke="#000" stroke-width="1.8" stroke-linejoin="round"/>
<ellipse cx="194.1" cy="425.8" rx="2.4" ry="5.0" fill="#eee" stroke="#000" stroke-width="2"/>
<ellipse cx="194.2" cy="424.7" rx="0.7" ry="2.6" fill="#000"/>
<path d="M209.9,407.9L207.3,411.6L203.6,415.8L205.7,418.9L211.5,421.1L216.2,422.1L218.8,422.1L218.3,420.0L216.2,415.8L212.5,411.6Z" fill="#f6f6f6" stroke="#000" stroke-width="2.5" stroke-linejoin="round"/>
<path d="M222.0,395.7L217.8,399.9L214.1,403.1L215.7,407.3L217.8,409.4L222.0,411.5" fill="none" stroke="#000" stroke-width="2.5" stroke-linejoin="round"/>
<path d="M222.5,383.8L226.1,375.9L228.8,380.7L229.6,383.1L233.9,380.3L238.7,383.8L242.2,387.4L243.6,391.7L245.0,395.7L247.0,402.8L248.6,409.0L247.4,414.6L241.1,419.4L236.3,422.5L233.2,419.4L229.2,420.2L225.3,422.5L224.5,418.6L219.7,416.2L216.6,413.1L219.7,409.1L216.6,406.7L218.2,403.6L222.9,398.8L224.5,395.7L222.1,391.7L223.7,387.8Z" fill="#f2f2f2" stroke="#000" stroke-width="2.5" stroke-linejoin="round"/>
<path d="M226.1,375.9L226.8,382.3L225.3,387.8L227.6,392.5L225.3,397.3" fill="none" stroke="#000" stroke-width="2.5" stroke-linejoin="round"/>
<path d="M225.3,399.6L228.8,395.7L229.6,388.6L232.0,388.6L232.4,393.3L237.9,396.5L238.7,399.6L241.8,402.8L245.0,405.9L245.4,412.3L242.6,415.4L238.7,414.6L233.9,412.7L228.8,413.1L226.4,410.7L226.8,403.6Z" fill="#e2e2e2" stroke="#000" stroke-width="2.5" stroke-linejoin="round"/>
<path d="M228.4,398.1L231.6,398.1L231.6,402.0L228.4,402.0Z" fill="#d4d4d4" stroke="#000" stroke-width="0" stroke-linejoin="round"/>
<path d="M228.4,402.0L234.7,402.0L234.7,409.1L228.4,409.1Z" fill="#dadada" stroke="#000" stroke-width="0" stroke-linejoin="round"/>
<path d="M234.7,403.6L241.8,405.2L242.6,411.5L235.5,410.7Z" fill="#d8d8d8" stroke="#000" stroke-width="0" stroke-linejoin="round"/>
<path d="M233.8,380.4L239.4,385.2L244.1,387.3L243.1,390.4L239.4,391.5L232.5,391.5L232.0,387.8L229.9,387.3" fill="none" stroke="#000" stroke-width="2.5" stroke-linejoin="round"/>
<path d="M239.4,391.5L242.3,395.2L241.6,399.1L245.2,401.5" fill="none" stroke="#000" stroke-width="2.0" stroke-linejoin="round"/>
<path d="M222.0,415.8L223.6,424.2L225.7,426.3L229.9,423.2L232.5,425.3L237.8,430.5L239.9,429.5L240.4,426.3L245.7,425.3L249.4,422.1L254.6,420.0L253.1,417.9" fill="none" stroke="#000" stroke-width="3.0" stroke-linejoin="round"/>
<path d="M233.6,421.6L237.3,416.8L244.6,417.9L239.9,422.1L234.6,423.7Z" fill="#eee" stroke="#000" stroke-width="2.5" stroke-linejoin="round"/>
<path d="M239.9,425.8L245.7,420.5L248.3,422.1L245.7,424.7L241.5,426.3Z" fill="#fff" stroke="#000" stroke-width="2.5" stroke-linejoin="round"/>
<path d="M225.2,421.1L229.9,417.9L234.1,415.8L228.8,420.0L226.7,423.7Z" fill="#fff" stroke="#000" stroke-width="2.5" stroke-linejoin="round"/>
<path d="M222.0,413.2L226.2,415.3L229.9,413.7L234.1,413.2" fill="none" stroke="#000" stroke-width="2.5" stroke-linejoin="round"/>
<path d="M238.2,319.4L236.2,320.2L234.7,322.3L234.3,325.5L234.2,350.0L234.3,355.8L237.7,361.7L238.7,369.5L241.6,374.3L242.6,382.1L244.6,388.9L245.0,395.8L247.5,402.6L248.9,408.4L252.3,413.3L255.5,416.2L259.2,417.2L262.1,411.3L261.6,404.5L257.2,396.7L254.3,390.9L253.8,384.1L250.4,378.2L248.9,370.9L245.5,366.6L246.0,362.7L242.6,355.8L241.8,350.0L242.1,325.5L241.7,322.3L240.2,320.2Z" fill="#000" stroke="#000" stroke-width="0" stroke-linejoin="round"/>
<rect x="237.3" y="328.5" width="1.2" height="9.8" rx="0.6" fill="#cfcfcf"/>
<path d="M237.6,354.2L237.3,355.9L238.8,356.6L239.1,354.9Z" fill="#f4f4f4" stroke="#000" stroke-width="0" stroke-linejoin="round"/>
<path d="M239.0,357.4L239.3,360.2L241.4,362.0L241.1,359.2Z" fill="#f4f4f4" stroke="#000" stroke-width="0" stroke-linejoin="round"/>
<path d="M242.0,369.8L242.3,373.6L245.2,376.0L244.9,372.2Z" fill="#f4f4f4" stroke="#000" stroke-width="0" stroke-linejoin="round"/>
<path d="M245.3,377.5L245.4,379.6L247.1,380.9L247.0,378.8Z" fill="#f4f4f4" stroke="#000" stroke-width="0" stroke-linejoin="round"/>
<path d="M248.0,385.6L248.0,388.0L250.0,389.4L250.0,387.0Z" fill="#f4f4f4" stroke="#000" stroke-width="0" stroke-linejoin="round"/>
<path d="M246.2,393.4L245.9,397.8L249.8,400.0L250.1,395.6Z" fill="#f4f4f4" stroke="#000" stroke-width="0" stroke-linejoin="round"/>
<path d="M251.8,393.6L251.5,395.0L252.8,395.6L253.1,394.2Z" fill="#f4f4f4" stroke="#000" stroke-width="0" stroke-linejoin="round"/>
<path d="M253.0,401.2L252.9,403.1L254.6,404.0L254.7,402.1Z" fill="#f4f4f4" stroke="#000" stroke-width="0" stroke-linejoin="round"/>
<path d="M249.7,406.2L249.8,409.0L252.1,410.6L252.0,407.8Z" fill="#f4f4f4" stroke="#000" stroke-width="0" stroke-linejoin="round"/>
<path d="M255.0,405.1L255.2,407.9L257.4,409.7L257.2,406.9Z" fill="#f4f4f4" stroke="#000" stroke-width="0" stroke-linejoin="round"/>
<path d="M242.9,387.2L242.4,390.6L245.5,392.0L246.0,388.6Z" fill="#f4f4f4" stroke="#000" stroke-width="0" stroke-linejoin="round"/>
<path d="M256.9,411.2L256.8,412.9L258.3,413.8L258.4,412.1Z" fill="#f4f4f4" stroke="#000" stroke-width="0" stroke-linejoin="round"/>
<circle cx="217.9" cy="379.7" r="2.1" fill="#000"/>
<circle cx="218.2" cy="407.4" r="2.2" fill="#000"/>
<circle cx="221.6" cy="413.6" r="1.7" fill="#000"/>
<circle cx="234.1" cy="407.7" r="1.7" fill="#000"/>
</g>
<g clip-path="url(#cp-c20)">
<g fill="#000" fill-opacity="0.1"><circle cx="175.0" cy="616.5" r="1.3"/><circle cx="174.5" cy="619.0" r="1.3"/><circle cx="155.0" cy="615.9" r="1.3"/><circle cx="170.6" cy="619.8" r="1.3"/><circle cx="170.6" cy="617.5" r="1.3"/><circle cx="157.8" cy="617.1" r="1.3"/><circle cx="152.7" cy="621.1" r="1.3"/><circle cx="170.3" cy="615.8" r="1.3"/><circle cx="153.1" cy="614.8" r="1.3"/><circle cx="165.4" cy="620.7" r="1.3"/><circle cx="151.8" cy="613.7" r="1.3"/><circle cx="155.1" cy="620.3" r="1.3"/><circle cx="153.7" cy="617.7" r="1.3"/><circle cx="173.3" cy="622.8" r="1.3"/><circle cx="152.6" cy="620.1" r="1.3"/><circle cx="157.8" cy="620.6" r="1.3"/><circle cx="163.7" cy="620.2" r="1.3"/><circle cx="153.7" cy="621.0" r="1.3"/><circle cx="177.3" cy="618.8" r="1.3"/><circle cx="176.9" cy="617.8" r="1.3"/><circle cx="151.0" cy="613.4" r="1.3"/><circle cx="171.8" cy="624.0" r="1.3"/></g>
<g fill="#000" fill-opacity="0.1"><circle cx="215.8" cy="614.2" r="1.3"/><circle cx="227.5" cy="626.2" r="1.3"/><circle cx="228.6" cy="621.6" r="1.3"/><circle cx="214.0" cy="620.3" r="1.3"/><circle cx="189.5" cy="624.7" r="1.3"/><circle cx="209.8" cy="614.0" r="1.3"/><circle cx="203.0" cy="615.4" r="1.3"/><circle cx="235.1" cy="624.8" r="1.3"/><circle cx="190.8" cy="624.1" r="1.3"/><circle cx="235.8" cy="616.6" r="1.3"/><circle cx="188.3" cy="615.8" r="1.3"/><circle cx="205.3" cy="621.2" r="1.3"/><circle cx="210.8" cy="609.4" r="1.3"/><circle cx="222.7" cy="611.8" r="1.3"/><circle cx="236.1" cy="613.5" r="1.3"/><circle cx="204.1" cy="615.2" r="1.3"/><circle cx="207.1" cy="626.0" r="1.3"/><circle cx="235.0" cy="622.5" r="1.3"/><circle cx="224.4" cy="611.8" r="1.3"/><circle cx="207.6" cy="616.7" r="1.3"/><circle cx="198.5" cy="622.0" r="1.3"/><circle cx="203.2" cy="616.0" r="1.3"/><circle cx="197.1" cy="609.2" r="1.3"/><circle cx="229.9" cy="626.2" r="1.3"/><circle cx="221.5" cy="614.6" r="1.3"/><circle cx="163.9" cy="620.4" r="1.3"/><circle cx="242.3" cy="621.0" r="1.3"/><circle cx="236.5" cy="626.9" r="1.3"/><circle cx="240.5" cy="617.3" r="1.3"/><circle cx="239.0" cy="623.4" r="1.3"/><circle cx="187.3" cy="617.5" r="1.3"/><circle cx="189.5" cy="619.0" r="1.3"/><circle cx="229.6" cy="614.2" r="1.3"/><circle cx="176.9" cy="626.0" r="1.3"/><circle cx="225.5" cy="626.9" r="1.3"/><circle cx="191.5" cy="624.8" r="1.3"/><circle cx="259.5" cy="629.5" r="1.3"/><circle cx="213.8" cy="620.8" r="1.3"/><circle cx="214.9" cy="624.5" r="1.3"/><circle cx="238.8" cy="619.9" r="1.3"/><circle cx="190.8" cy="623.2" r="1.3"/><circle cx="208.6" cy="622.6" r="1.3"/><circle cx="223.3" cy="627.6" r="1.3"/><circle cx="240.8" cy="617.2" r="1.3"/><circle cx="225.0" cy="628.3" r="1.3"/><circle cx="207.3" cy="621.7" r="1.3"/><circle cx="241.8" cy="625.8" r="1.3"/><circle cx="228.4" cy="612.9" r="1.3"/><circle cx="192.8" cy="620.7" r="1.3"/><circle cx="225.7" cy="632.2" r="1.3"/><circle cx="200.8" cy="625.2" r="1.3"/><circle cx="233.4" cy="611.1" r="1.3"/><circle cx="201.6" cy="620.3" r="1.3"/><circle cx="208.1" cy="618.7" r="1.3"/><circle cx="227.4" cy="615.5" r="1.3"/><circle cx="227.3" cy="616.3" r="1.3"/><circle cx="207.1" cy="622.2" r="1.3"/><circle cx="206.5" cy="620.9" r="1.3"/><circle cx="250.0" cy="619.6" r="1.3"/><circle cx="215.1" cy="623.2" r="1.3"/><circle cx="210.7" cy="624.9" r="1.3"/><circle cx="192.3" cy="622.6" r="1.3"/><circle cx="207.8" cy="615.5" r="1.3"/><circle cx="253.4" cy="615.2" r="1.3"/><circle cx="253.1" cy="622.8" r="1.3"/><circle cx="247.1" cy="614.6" r="1.3"/><circle cx="242.0" cy="626.8" r="1.3"/><circle cx="215.7" cy="618.9" r="1.3"/><circle cx="209.5" cy="616.4" r="1.3"/><circle cx="226.9" cy="621.2" r="1.3"/><circle cx="221.6" cy="628.1" r="1.3"/><circle cx="211.4" cy="621.9" r="1.3"/><circle cx="247.2" cy="614.5" r="1.3"/><circle cx="238.8" cy="628.7" r="1.3"/><circle cx="190.9" cy="614.0" r="1.3"/><circle cx="197.2" cy="610.3" r="1.3"/><circle cx="227.1" cy="610.2" r="1.3"/><circle cx="228.0" cy="626.8" r="1.3"/><circle cx="185.7" cy="617.9" r="1.3"/><circle cx="179.6" cy="623.4" r="1.3"/><circle cx="203.3" cy="618.2" r="1.3"/><circle cx="219.1" cy="622.2" r="1.3"/><circle cx="211.1" cy="619.6" r="1.3"/><circle cx="207.1" cy="620.1" r="1.3"/><circle cx="194.5" cy="619.8" r="1.3"/><circle cx="179.4" cy="617.0" r="1.3"/><circle cx="256.3" cy="619.9" r="1.3"/><circle cx="192.8" cy="620.8" r="1.3"/><circle cx="198.6" cy="611.2" r="1.3"/><circle cx="203.3" cy="623.2" r="1.3"/><circle cx="225.7" cy="619.0" r="1.3"/><circle cx="199.5" cy="614.1" r="1.3"/><circle cx="245.0" cy="620.7" r="1.3"/><circle cx="199.0" cy="608.9" r="1.3"/><circle cx="190.6" cy="631.9" r="1.3"/><circle cx="195.0" cy="619.1" r="1.3"/><circle cx="222.2" cy="618.7" r="1.3"/><circle cx="212.4" cy="612.6" r="1.3"/><circle cx="197.0" cy="627.9" r="1.3"/><circle cx="202.9" cy="623.7" r="1.3"/><circle cx="184.1" cy="618.1" r="1.3"/><circle cx="223.2" cy="624.7" r="1.3"/><circle cx="195.5" cy="622.5" r="1.3"/><circle cx="225.7" cy="615.8" r="1.3"/><circle cx="227.5" cy="615.0" r="1.3"/><circle cx="202.1" cy="619.4" r="1.3"/><circle cx="163.7" cy="619.0" r="1.3"/><circle cx="198.0" cy="612.2" r="1.3"/><circle cx="209.5" cy="623.3" r="1.3"/><circle cx="209.9" cy="625.8" r="1.3"/><circle cx="194.8" cy="612.9" r="1.3"/><circle cx="249.0" cy="621.5" r="1.3"/><circle cx="236.9" cy="615.4" r="1.3"/><circle cx="234.1" cy="620.8" r="1.3"/><circle cx="231.0" cy="619.6" r="1.3"/><circle cx="242.1" cy="616.3" r="1.3"/><circle cx="198.7" cy="612.1" r="1.3"/><circle cx="241.2" cy="615.8" r="1.3"/><circle cx="197.1" cy="614.8" r="1.3"/><circle cx="209.1" cy="613.1" r="1.3"/><circle cx="212.2" cy="616.4" r="1.3"/><circle cx="207.0" cy="614.7" r="1.3"/><circle cx="218.7" cy="617.2" r="1.3"/><circle cx="220.3" cy="620.7" r="1.3"/><circle cx="224.8" cy="608.6" r="1.3"/><circle cx="207.3" cy="615.5" r="1.3"/><circle cx="233.5" cy="611.6" r="1.3"/><circle cx="203.7" cy="618.0" r="1.3"/><circle cx="211.3" cy="624.5" r="1.3"/><circle cx="209.1" cy="624.3" r="1.3"/><circle cx="188.7" cy="610.4" r="1.3"/><circle cx="242.4" cy="621.7" r="1.3"/><circle cx="227.8" cy="620.1" r="1.3"/><circle cx="227.7" cy="613.4" r="1.3"/><circle cx="237.0" cy="616.8" r="1.3"/><circle cx="237.7" cy="619.9" r="1.3"/><circle cx="178.5" cy="613.1" r="1.3"/><circle cx="240.6" cy="618.8" r="1.3"/><circle cx="210.1" cy="620.7" r="1.3"/><circle cx="209.5" cy="616.8" r="1.3"/><circle cx="220.0" cy="620.2" r="1.3"/><circle cx="248.3" cy="619.7" r="1.3"/><circle cx="255.6" cy="628.5" r="1.3"/><circle cx="252.3" cy="624.8" r="1.3"/><circle cx="220.6" cy="620.2" r="1.3"/><circle cx="215.1" cy="615.8" r="1.3"/><circle cx="216.7" cy="616.3" r="1.3"/><circle cx="250.8" cy="622.2" r="1.3"/><circle cx="209.1" cy="609.9" r="1.3"/><circle cx="216.9" cy="617.4" r="1.3"/><circle cx="196.3" cy="613.8" r="1.3"/><circle cx="173.0" cy="622.3" r="1.3"/><circle cx="216.7" cy="632.4" r="1.3"/><circle cx="217.4" cy="618.8" r="1.3"/><circle cx="246.9" cy="620.2" r="1.3"/><circle cx="221.3" cy="617.6" r="1.3"/><circle cx="205.9" cy="627.0" r="1.3"/><circle cx="238.0" cy="628.1" r="1.3"/><circle cx="211.0" cy="619.7" r="1.3"/><circle cx="200.4" cy="624.3" r="1.3"/><circle cx="190.1" cy="622.3" r="1.3"/><circle cx="239.9" cy="626.6" r="1.3"/><circle cx="199.2" cy="624.9" r="1.3"/><circle cx="203.7" cy="615.7" r="1.3"/><circle cx="191.5" cy="625.3" r="1.3"/><circle cx="251.0" cy="616.5" r="1.3"/><circle cx="202.8" cy="617.8" r="1.3"/><circle cx="207.1" cy="610.5" r="1.3"/><circle cx="204.5" cy="625.4" r="1.3"/><circle cx="255.4" cy="618.2" r="1.3"/><circle cx="204.2" cy="617.0" r="1.3"/><circle cx="180.3" cy="624.0" r="1.3"/><circle cx="196.3" cy="624.8" r="1.3"/><circle cx="183.8" cy="613.1" r="1.3"/><circle cx="223.8" cy="615.7" r="1.3"/><circle cx="233.6" cy="619.5" r="1.3"/><circle cx="194.5" cy="622.6" r="1.3"/><circle cx="234.8" cy="609.9" r="1.3"/><circle cx="254.5" cy="622.0" r="1.3"/><circle cx="233.2" cy="610.2" r="1.3"/><circle cx="203.6" cy="617.8" r="1.3"/><circle cx="239.5" cy="612.2" r="1.3"/><circle cx="200.3" cy="609.4" r="1.3"/><circle cx="213.2" cy="621.2" r="1.3"/><circle cx="184.3" cy="616.5" r="1.3"/><circle cx="228.2" cy="627.4" r="1.3"/><circle cx="231.3" cy="618.0" r="1.3"/><circle cx="194.4" cy="614.8" r="1.3"/><circle cx="204.7" cy="620.2" r="1.3"/><circle cx="217.0" cy="627.8" r="1.3"/><circle cx="223.7" cy="614.1" r="1.3"/><circle cx="248.9" cy="624.2" r="1.3"/><circle cx="220.0" cy="615.9" r="1.3"/><circle cx="180.6" cy="614.4" r="1.3"/><circle cx="236.2" cy="615.5" r="1.3"/><circle cx="191.6" cy="620.5" r="1.3"/><circle cx="222.9" cy="622.5" r="1.3"/><circle cx="231.1" cy="626.5" r="1.3"/><circle cx="201.2" cy="624.4" r="1.3"/><circle cx="198.3" cy="623.0" r="1.3"/><circle cx="221.6" cy="620.7" r="1.3"/><circle cx="237.4" cy="619.4" r="1.3"/><circle cx="240.2" cy="623.9" r="1.3"/><circle cx="220.7" cy="616.7" r="1.3"/><circle cx="202.9" cy="616.9" r="1.3"/><circle cx="214.0" cy="619.4" r="1.3"/><circle cx="233.4" cy="615.2" r="1.3"/><circle cx="203.8" cy="617.9" r="1.3"/><circle cx="221.8" cy="614.3" r="1.3"/><circle cx="250.2" cy="616.7" r="1.3"/><circle cx="239.6" cy="607.8" r="1.3"/><circle cx="217.9" cy="620.9" r="1.3"/><circle cx="221.8" cy="622.5" r="1.3"/><circle cx="223.6" cy="620.3" r="1.3"/><circle cx="180.1" cy="615.9" r="1.3"/><circle cx="171.1" cy="622.6" r="1.3"/><circle cx="224.1" cy="618.5" r="1.3"/><circle cx="201.6" cy="616.6" r="1.3"/><circle cx="254.9" cy="628.2" r="1.3"/><circle cx="216.8" cy="625.9" r="1.3"/><circle cx="186.2" cy="609.8" r="1.3"/><circle cx="208.3" cy="615.1" r="1.3"/><circle cx="206.8" cy="620.4" r="1.3"/><circle cx="219.0" cy="620.9" r="1.3"/><circle cx="217.3" cy="624.2" r="1.3"/><circle cx="253.5" cy="613.3" r="1.3"/><circle cx="221.2" cy="618.2" r="1.3"/><circle cx="225.1" cy="611.8" r="1.3"/><circle cx="182.8" cy="607.9" r="1.3"/><circle cx="228.5" cy="620.5" r="1.3"/><circle cx="219.5" cy="607.7" r="1.3"/><circle cx="210.5" cy="615.7" r="1.3"/><circle cx="189.7" cy="614.9" r="1.3"/><circle cx="232.0" cy="622.2" r="1.3"/><circle cx="217.5" cy="622.1" r="1.3"/><circle cx="205.9" cy="619.9" r="1.3"/><circle cx="218.8" cy="622.3" r="1.3"/><circle cx="216.6" cy="618.8" r="1.3"/><circle cx="215.3" cy="616.3" r="1.3"/><circle cx="262.7" cy="622.1" r="1.3"/><circle cx="226.6" cy="631.0" r="1.3"/><circle cx="246.1" cy="611.7" r="1.3"/><circle cx="231.9" cy="623.7" r="1.3"/><circle cx="255.7" cy="626.1" r="1.3"/><circle cx="233.4" cy="613.6" r="1.3"/><circle cx="200.6" cy="620.8" r="1.3"/><circle cx="228.1" cy="614.4" r="1.3"/><circle cx="210.3" cy="617.5" r="1.3"/><circle cx="219.2" cy="621.2" r="1.3"/><circle cx="212.3" cy="613.3" r="1.3"/><circle cx="242.9" cy="627.5" r="1.3"/><circle cx="215.9" cy="624.6" r="1.3"/><circle cx="226.9" cy="622.8" r="1.3"/><circle cx="227.6" cy="615.7" r="1.3"/><circle cx="229.5" cy="624.6" r="1.3"/><circle cx="200.1" cy="629.3" r="1.3"/><circle cx="259.8" cy="628.6" r="1.3"/><circle cx="257.8" cy="623.2" r="1.3"/><circle cx="211.2" cy="616.5" r="1.3"/><circle cx="201.7" cy="620.1" r="1.3"/><circle cx="217.3" cy="622.9" r="1.3"/><circle cx="177.6" cy="631.1" r="1.3"/><circle cx="231.5" cy="621.9" r="1.3"/><circle cx="223.5" cy="618.5" r="1.3"/><circle cx="215.5" cy="615.4" r="1.3"/><circle cx="221.6" cy="619.4" r="1.3"/><circle cx="224.4" cy="615.2" r="1.3"/><circle cx="218.8" cy="619.7" r="1.3"/><circle cx="230.1" cy="614.2" r="1.3"/><circle cx="226.4" cy="624.4" r="1.3"/><circle cx="229.9" cy="617.7" r="1.3"/><circle cx="208.2" cy="618.3" r="1.3"/><circle cx="232.6" cy="627.3" r="1.3"/><circle cx="214.8" cy="616.3" r="1.3"/><circle cx="225.5" cy="620.5" r="1.3"/><circle cx="199.8" cy="615.8" r="1.3"/><circle cx="216.0" cy="622.9" r="1.3"/><circle cx="194.1" cy="614.4" r="1.3"/><circle cx="228.0" cy="613.4" r="1.3"/><circle cx="220.2" cy="621.3" r="1.3"/><circle cx="215.8" cy="614.4" r="1.3"/><circle cx="216.8" cy="617.8" r="1.3"/><circle cx="224.7" cy="615.3" r="1.3"/><circle cx="239.8" cy="611.1" r="1.3"/><circle cx="214.5" cy="619.5" r="1.3"/><circle cx="237.2" cy="616.5" r="1.3"/><circle cx="228.9" cy="616.7" r="1.3"/><circle cx="232.8" cy="628.2" r="1.3"/><circle cx="210.0" cy="621.7" r="1.3"/><circle cx="199.5" cy="624.4" r="1.3"/><circle cx="242.2" cy="619.7" r="1.3"/><circle cx="195.3" cy="621.5" r="1.3"/><circle cx="241.0" cy="624.9" r="1.3"/><circle cx="234.3" cy="610.3" r="1.3"/><circle cx="204.4" cy="626.6" r="1.3"/><circle cx="193.5" cy="625.2" r="1.3"/><circle cx="255.6" cy="623.3" r="1.3"/><circle cx="240.4" cy="617.8" r="1.3"/><circle cx="193.5" cy="619.0" r="1.3"/><circle cx="214.0" cy="619.3" r="1.3"/><circle cx="231.9" cy="618.8" r="1.3"/><circle cx="221.8" cy="621.6" r="1.3"/><circle cx="217.9" cy="628.7" r="1.3"/><circle cx="226.8" cy="619.9" r="1.3"/><circle cx="213.8" cy="616.4" r="1.3"/><circle cx="244.9" cy="620.3" r="1.3"/><circle cx="196.4" cy="616.7" r="1.3"/><circle cx="215.3" cy="617.3" r="1.3"/><circle cx="239.7" cy="613.7" r="1.3"/><circle cx="227.8" cy="620.2" r="1.3"/><circle cx="194.4" cy="619.7" r="1.3"/><circle cx="216.1" cy="622.0" r="1.3"/><circle cx="209.0" cy="621.0" r="1.3"/><circle cx="184.7" cy="614.1" r="1.3"/><circle cx="233.7" cy="624.7" r="1.3"/><circle cx="217.7" cy="616.5" r="1.3"/><circle cx="239.7" cy="609.0" r="1.3"/><circle cx="202.0" cy="622.9" r="1.3"/><circle cx="231.1" cy="614.3" r="1.3"/><circle cx="180.3" cy="626.8" r="1.3"/><circle cx="221.1" cy="615.0" r="1.3"/><circle cx="219.1" cy="624.0" r="1.3"/><circle cx="166.2" cy="625.1" r="1.3"/><circle cx="232.8" cy="609.1" r="1.3"/><circle cx="233.4" cy="610.6" r="1.3"/><circle cx="240.8" cy="621.5" r="1.3"/><circle cx="218.1" cy="624.7" r="1.3"/><circle cx="205.2" cy="616.0" r="1.3"/><circle cx="210.6" cy="619.1" r="1.3"/><circle cx="196.4" cy="621.9" r="1.3"/><circle cx="228.9" cy="619.9" r="1.3"/><circle cx="252.0" cy="617.9" r="1.3"/><circle cx="244.1" cy="616.8" r="1.3"/><circle cx="233.1" cy="609.8" r="1.3"/><circle cx="222.0" cy="618.6" r="1.3"/><circle cx="208.1" cy="616.4" r="1.3"/><circle cx="211.1" cy="615.9" r="1.3"/><circle cx="174.1" cy="616.5" r="1.3"/><circle cx="207.0" cy="616.9" r="1.3"/><circle cx="196.8" cy="618.8" r="1.3"/><circle cx="233.7" cy="618.2" r="1.3"/><circle cx="208.1" cy="626.3" r="1.3"/><circle cx="237.5" cy="624.1" r="1.3"/><circle cx="241.1" cy="617.9" r="1.3"/><circle cx="215.4" cy="625.1" r="1.3"/><circle cx="206.9" cy="618.9" r="1.3"/><circle cx="225.6" cy="621.4" r="1.3"/><circle cx="212.5" cy="624.4" r="1.3"/><circle cx="214.4" cy="623.1" r="1.3"/><circle cx="239.4" cy="622.8" r="1.3"/><circle cx="232.7" cy="613.7" r="1.3"/><circle cx="191.8" cy="616.4" r="1.3"/><circle cx="227.5" cy="627.0" r="1.3"/><circle cx="193.6" cy="621.0" r="1.3"/><circle cx="200.9" cy="615.8" r="1.3"/><circle cx="212.5" cy="623.0" r="1.3"/><circle cx="222.3" cy="625.4" r="1.3"/><circle cx="198.3" cy="623.9" r="1.3"/><circle cx="236.6" cy="619.8" r="1.3"/><circle cx="227.5" cy="616.7" r="1.3"/><circle cx="196.2" cy="617.5" r="1.3"/><circle cx="205.1" cy="634.0" r="1.3"/><circle cx="208.3" cy="627.8" r="1.3"/><circle cx="222.0" cy="621.1" r="1.3"/><circle cx="232.9" cy="615.6" r="1.3"/><circle cx="236.3" cy="621.4" r="1.3"/><circle cx="187.7" cy="622.5" r="1.3"/><circle cx="229.1" cy="621.8" r="1.3"/><circle cx="249.7" cy="617.4" r="1.3"/><circle cx="228.2" cy="623.2" r="1.3"/><circle cx="200.0" cy="625.5" r="1.3"/><circle cx="189.0" cy="613.0" r="1.3"/><circle cx="228.4" cy="614.1" r="1.3"/><circle cx="215.7" cy="611.3" r="1.3"/><circle cx="219.4" cy="613.8" r="1.3"/><circle cx="224.8" cy="611.8" r="1.3"/><circle cx="227.0" cy="618.2" r="1.3"/><circle cx="219.3" cy="619.2" r="1.3"/><circle cx="220.6" cy="612.9" r="1.3"/><circle cx="166.7" cy="619.7" r="1.3"/><circle cx="199.3" cy="617.2" r="1.3"/><circle cx="226.5" cy="609.6" r="1.3"/><circle cx="202.7" cy="616.4" r="1.3"/><circle cx="196.9" cy="621.1" r="1.3"/><circle cx="215.2" cy="615.4" r="1.3"/><circle cx="198.3" cy="623.5" r="1.3"/><circle cx="204.8" cy="622.4" r="1.3"/><circle cx="227.0" cy="610.0" r="1.3"/><circle cx="196.3" cy="619.5" r="1.3"/><circle cx="224.8" cy="623.4" r="1.3"/><circle cx="234.0" cy="624.7" r="1.3"/><circle cx="210.5" cy="618.4" r="1.3"/><circle cx="233.5" cy="617.4" r="1.3"/><circle cx="239.1" cy="611.6" r="1.3"/><circle cx="231.1" cy="618.6" r="1.3"/><circle cx="178.7" cy="624.4" r="1.3"/><circle cx="224.2" cy="619.6" r="1.3"/><circle cx="196.5" cy="617.2" r="1.3"/><circle cx="248.2" cy="615.4" r="1.3"/><circle cx="194.0" cy="618.8" r="1.3"/><circle cx="210.1" cy="614.9" r="1.3"/><circle cx="201.2" cy="624.7" r="1.3"/><circle cx="189.2" cy="629.3" r="1.3"/><circle cx="207.1" cy="614.0" r="1.3"/><circle cx="233.7" cy="622.3" r="1.3"/><circle cx="197.1" cy="623.2" r="1.3"/><circle cx="181.2" cy="614.9" r="1.3"/><circle cx="240.5" cy="618.2" r="1.3"/><circle cx="192.0" cy="622.1" r="1.3"/><circle cx="236.3" cy="619.4" r="1.3"/><circle cx="181.9" cy="617.8" r="1.3"/><circle cx="226.4" cy="623.3" r="1.3"/><circle cx="255.1" cy="618.2" r="1.3"/><circle cx="208.4" cy="619.3" r="1.3"/><circle cx="242.1" cy="614.8" r="1.3"/><circle cx="244.1" cy="605.8" r="1.3"/><circle cx="234.0" cy="616.1" r="1.3"/><circle cx="227.2" cy="622.9" r="1.3"/><circle cx="194.3" cy="619.1" r="1.3"/><circle cx="222.8" cy="622.4" r="1.3"/><circle cx="199.4" cy="614.5" r="1.3"/><circle cx="179.5" cy="632.2" r="1.3"/><circle cx="214.2" cy="618.4" r="1.3"/><circle cx="188.1" cy="624.1" r="1.3"/><circle cx="207.3" cy="626.7" r="1.3"/><circle cx="235.0" cy="619.6" r="1.3"/><circle cx="232.5" cy="613.9" r="1.3"/><circle cx="211.5" cy="616.6" r="1.3"/><circle cx="192.6" cy="619.6" r="1.3"/><circle cx="215.1" cy="626.7" r="1.3"/><circle cx="199.6" cy="617.2" r="1.3"/><circle cx="226.4" cy="621.5" r="1.3"/><circle cx="218.6" cy="617.1" r="1.3"/><circle cx="227.9" cy="621.3" r="1.3"/><circle cx="181.1" cy="618.2" r="1.3"/><circle cx="190.5" cy="613.6" r="1.3"/><circle cx="220.9" cy="619.8" r="1.3"/><circle cx="220.3" cy="615.1" r="1.3"/><circle cx="214.0" cy="614.9" r="1.3"/><circle cx="225.6" cy="622.9" r="1.3"/><circle cx="253.1" cy="625.8" r="1.3"/><circle cx="201.9" cy="617.2" r="1.3"/><circle cx="199.2" cy="621.0" r="1.3"/><circle cx="257.6" cy="623.0" r="1.3"/><circle cx="174.0" cy="613.2" r="1.3"/><circle cx="192.1" cy="622.1" r="1.3"/><circle cx="218.0" cy="621.0" r="1.3"/><circle cx="253.6" cy="615.4" r="1.3"/><circle cx="201.0" cy="629.3" r="1.3"/><circle cx="224.8" cy="615.6" r="1.3"/><circle cx="177.4" cy="611.9" r="1.3"/><circle cx="169.1" cy="619.8" r="1.3"/><circle cx="218.9" cy="624.5" r="1.3"/><circle cx="215.2" cy="616.0" r="1.3"/><circle cx="203.2" cy="629.0" r="1.3"/><circle cx="182.7" cy="620.4" r="1.3"/><circle cx="218.5" cy="622.6" r="1.3"/><circle cx="209.9" cy="622.0" r="1.3"/><circle cx="234.3" cy="618.8" r="1.3"/><circle cx="208.8" cy="618.6" r="1.3"/><circle cx="198.7" cy="618.5" r="1.3"/><circle cx="212.0" cy="620.6" r="1.3"/><circle cx="244.7" cy="626.0" r="1.3"/><circle cx="209.1" cy="622.5" r="1.3"/><circle cx="223.9" cy="623.3" r="1.3"/><circle cx="218.4" cy="620.8" r="1.3"/><circle cx="208.6" cy="615.6" r="1.3"/><circle cx="235.4" cy="626.0" r="1.3"/><circle cx="231.2" cy="621.7" r="1.3"/><circle cx="223.3" cy="617.2" r="1.3"/><circle cx="182.3" cy="622.8" r="1.3"/><circle cx="222.0" cy="616.7" r="1.3"/><circle cx="198.7" cy="625.9" r="1.3"/><circle cx="181.9" cy="628.3" r="1.3"/><circle cx="230.8" cy="631.4" r="1.3"/><circle cx="203.6" cy="619.4" r="1.3"/><circle cx="207.9" cy="620.3" r="1.3"/><circle cx="213.8" cy="615.8" r="1.3"/><circle cx="239.5" cy="615.6" r="1.3"/><circle cx="207.8" cy="622.3" r="1.3"/><circle cx="207.2" cy="617.3" r="1.3"/><circle cx="225.1" cy="617.7" r="1.3"/><circle cx="193.1" cy="619.0" r="1.3"/><circle cx="213.6" cy="628.0" r="1.3"/><circle cx="196.1" cy="624.3" r="1.3"/><circle cx="202.3" cy="617.7" r="1.3"/><circle cx="211.5" cy="620.9" r="1.3"/><circle cx="235.3" cy="628.2" r="1.3"/><circle cx="205.3" cy="626.1" r="1.3"/><circle cx="237.9" cy="623.6" r="1.3"/><circle cx="202.8" cy="624.0" r="1.3"/><circle cx="215.9" cy="621.3" r="1.3"/><circle cx="212.6" cy="622.8" r="1.3"/><circle cx="240.3" cy="625.2" r="1.3"/><circle cx="213.9" cy="624.5" r="1.3"/><circle cx="247.0" cy="614.8" r="1.3"/><circle cx="247.4" cy="612.8" r="1.3"/><circle cx="228.9" cy="622.5" r="1.3"/><circle cx="247.7" cy="620.9" r="1.3"/><circle cx="208.4" cy="615.5" r="1.3"/><circle cx="193.0" cy="623.3" r="1.3"/><circle cx="213.3" cy="615.9" r="1.3"/><circle cx="228.6" cy="615.7" r="1.3"/><circle cx="209.3" cy="617.2" r="1.3"/><circle cx="251.1" cy="626.8" r="1.3"/><circle cx="214.8" cy="611.6" r="1.3"/><circle cx="223.5" cy="619.9" r="1.3"/><circle cx="225.0" cy="622.3" r="1.3"/><circle cx="211.6" cy="624.1" r="1.3"/><circle cx="234.7" cy="620.6" r="1.3"/><circle cx="209.9" cy="617.1" r="1.3"/><circle cx="231.9" cy="614.0" r="1.3"/><circle cx="214.8" cy="615.8" r="1.3"/><circle cx="190.1" cy="622.5" r="1.3"/><circle cx="217.5" cy="619.7" r="1.3"/><circle cx="235.5" cy="612.0" r="1.3"/><circle cx="216.7" cy="620.9" r="1.3"/><circle cx="234.6" cy="614.1" r="1.3"/><circle cx="232.3" cy="620.6" r="1.3"/><circle cx="245.1" cy="625.2" r="1.3"/><circle cx="229.0" cy="630.2" r="1.3"/><circle cx="218.0" cy="617.4" r="1.3"/><circle cx="211.2" cy="614.8" r="1.3"/><circle cx="217.4" cy="610.1" r="1.3"/><circle cx="216.3" cy="621.6" r="1.3"/><circle cx="237.8" cy="617.8" r="1.3"/><circle cx="245.8" cy="616.2" r="1.3"/><circle cx="215.3" cy="610.1" r="1.3"/><circle cx="202.8" cy="615.5" r="1.3"/><circle cx="247.2" cy="622.1" r="1.3"/><circle cx="196.4" cy="622.1" r="1.3"/><circle cx="227.4" cy="618.4" r="1.3"/><circle cx="218.4" cy="618.0" r="1.3"/><circle cx="207.4" cy="610.8" r="1.3"/><circle cx="216.2" cy="625.8" r="1.3"/><circle cx="246.0" cy="618.1" r="1.3"/><circle cx="203.4" cy="618.5" r="1.3"/><circle cx="235.5" cy="621.2" r="1.3"/><circle cx="206.6" cy="621.3" r="1.3"/><circle cx="214.0" cy="622.0" r="1.3"/><circle cx="210.0" cy="612.3" r="1.3"/><circle cx="219.1" cy="623.2" r="1.3"/><circle cx="196.4" cy="619.0" r="1.3"/><circle cx="235.1" cy="617.7" r="1.3"/><circle cx="205.3" cy="629.4" r="1.3"/><circle cx="234.2" cy="624.5" r="1.3"/><circle cx="199.6" cy="627.5" r="1.3"/><circle cx="185.7" cy="617.0" r="1.3"/><circle cx="232.4" cy="626.0" r="1.3"/><circle cx="199.9" cy="616.3" r="1.3"/><circle cx="221.8" cy="610.1" r="1.3"/><circle cx="230.4" cy="622.2" r="1.3"/><circle cx="209.3" cy="622.1" r="1.3"/><circle cx="233.1" cy="621.0" r="1.3"/><circle cx="228.1" cy="626.9" r="1.3"/><circle cx="208.7" cy="620.3" r="1.3"/><circle cx="207.9" cy="624.5" r="1.3"/><circle cx="210.1" cy="621.8" r="1.3"/><circle cx="220.7" cy="619.8" r="1.3"/><circle cx="251.3" cy="619.1" r="1.3"/><circle cx="245.5" cy="623.5" r="1.3"/><circle cx="243.6" cy="618.7" r="1.3"/><circle cx="236.0" cy="623.2" r="1.3"/><circle cx="206.1" cy="620.8" r="1.3"/><circle cx="215.5" cy="619.3" r="1.3"/><circle cx="243.2" cy="616.0" r="1.3"/><circle cx="185.5" cy="611.1" r="1.3"/><circle cx="209.3" cy="616.4" r="1.3"/><circle cx="218.3" cy="622.2" r="1.3"/><circle cx="252.0" cy="621.0" r="1.3"/><circle cx="226.9" cy="616.0" r="1.3"/><circle cx="229.2" cy="626.1" r="1.3"/><circle cx="243.9" cy="610.1" r="1.3"/><circle cx="235.2" cy="627.1" r="1.3"/><circle cx="233.9" cy="612.3" r="1.3"/><circle cx="212.1" cy="622.3" r="1.3"/><circle cx="226.0" cy="615.6" r="1.3"/><circle cx="200.8" cy="624.2" r="1.3"/><circle cx="192.3" cy="626.4" r="1.3"/><circle cx="218.4" cy="620.9" r="1.3"/><circle cx="192.3" cy="616.6" r="1.3"/><circle cx="231.3" cy="612.4" r="1.3"/><circle cx="257.9" cy="612.7" r="1.3"/><circle cx="194.5" cy="619.7" r="1.3"/><circle cx="227.3" cy="623.0" r="1.3"/><circle cx="210.9" cy="618.5" r="1.3"/><circle cx="213.5" cy="616.7" r="1.3"/><circle cx="168.4" cy="624.1" r="1.3"/><circle cx="222.8" cy="620.3" r="1.3"/><circle cx="205.9" cy="620.7" r="1.3"/><circle cx="217.7" cy="619.1" r="1.3"/><circle cx="239.2" cy="611.2" r="1.3"/><circle cx="222.8" cy="614.4" r="1.3"/><circle cx="211.9" cy="626.7" r="1.3"/><circle cx="197.2" cy="619.0" r="1.3"/><circle cx="206.6" cy="624.1" r="1.3"/><circle cx="199.2" cy="611.4" r="1.3"/><circle cx="227.9" cy="617.8" r="1.3"/><circle cx="211.9" cy="624.7" r="1.3"/><circle cx="200.9" cy="617.7" r="1.3"/><circle cx="220.8" cy="621.5" r="1.3"/><circle cx="208.1" cy="624.5" r="1.3"/><circle cx="261.1" cy="617.5" r="1.3"/><circle cx="253.9" cy="609.4" r="1.3"/><circle cx="245.0" cy="617.8" r="1.3"/><circle cx="220.6" cy="617.9" r="1.3"/><circle cx="205.8" cy="613.4" r="1.3"/><circle cx="210.4" cy="625.7" r="1.3"/><circle cx="239.9" cy="617.8" r="1.3"/><circle cx="207.9" cy="616.1" r="1.3"/><circle cx="195.0" cy="628.2" r="1.3"/><circle cx="230.7" cy="620.1" r="1.3"/><circle cx="208.6" cy="614.6" r="1.3"/><circle cx="243.3" cy="623.2" r="1.3"/><circle cx="199.7" cy="624.2" r="1.3"/><circle cx="196.7" cy="622.6" r="1.3"/><circle cx="199.5" cy="617.5" r="1.3"/><circle cx="227.5" cy="621.6" r="1.3"/><circle cx="237.4" cy="615.5" r="1.3"/><circle cx="248.3" cy="626.0" r="1.3"/><circle cx="217.8" cy="621.7" r="1.3"/><circle cx="203.1" cy="618.8" r="1.3"/><circle cx="192.6" cy="619.9" r="1.3"/><circle cx="221.8" cy="625.9" r="1.3"/><circle cx="236.2" cy="623.4" r="1.3"/><circle cx="211.1" cy="618.4" r="1.3"/><circle cx="211.5" cy="620.6" r="1.3"/><circle cx="180.9" cy="623.2" r="1.3"/><circle cx="187.9" cy="617.0" r="1.3"/><circle cx="218.4" cy="617.0" r="1.3"/><circle cx="249.9" cy="619.0" r="1.3"/><circle cx="248.2" cy="625.1" r="1.3"/><circle cx="208.5" cy="621.4" r="1.3"/><circle cx="242.9" cy="617.9" r="1.3"/><circle cx="219.7" cy="616.8" r="1.3"/><circle cx="219.1" cy="617.8" r="1.3"/><circle cx="219.6" cy="624.3" r="1.3"/><circle cx="244.7" cy="620.1" r="1.3"/><circle cx="221.9" cy="623.6" r="1.3"/><circle cx="212.4" cy="614.4" r="1.3"/></g>
<g fill="#000" fill-opacity="0.1"><circle cx="187.3" cy="615.4" r="1.3"/><circle cx="186.5" cy="615.3" r="1.3"/><circle cx="190.8" cy="615.0" r="1.3"/><circle cx="186.1" cy="624.8" r="1.3"/><circle cx="177.4" cy="624.7" r="1.3"/><circle cx="178.0" cy="612.2" r="1.3"/><circle cx="185.5" cy="621.7" r="1.3"/><circle cx="181.0" cy="609.3" r="1.3"/><circle cx="181.7" cy="617.8" r="1.3"/><circle cx="180.2" cy="617.9" r="1.3"/><circle cx="173.4" cy="616.8" r="1.3"/><circle cx="190.6" cy="624.9" r="1.3"/><circle cx="180.3" cy="616.3" r="1.3"/><circle cx="183.9" cy="623.1" r="1.3"/><circle cx="185.5" cy="614.5" r="1.3"/><circle cx="182.8" cy="619.5" r="1.3"/><circle cx="188.9" cy="623.6" r="1.3"/><circle cx="184.5" cy="623.7" r="1.3"/><circle cx="180.1" cy="624.9" r="1.3"/><circle cx="180.0" cy="620.5" r="1.3"/><circle cx="186.4" cy="615.5" r="1.3"/><circle cx="178.6" cy="612.2" r="1.3"/><circle cx="182.8" cy="618.8" r="1.3"/><circle cx="180.4" cy="620.9" r="1.3"/><circle cx="171.8" cy="618.9" r="1.3"/><circle cx="182.4" cy="618.0" r="1.3"/><circle cx="185.8" cy="625.7" r="1.3"/><circle cx="179.9" cy="615.4" r="1.3"/><circle cx="179.1" cy="619.4" r="1.3"/><circle cx="184.8" cy="615.7" r="1.3"/><circle cx="186.8" cy="615.1" r="1.3"/><circle cx="186.0" cy="620.6" r="1.3"/><circle cx="184.2" cy="627.3" r="1.3"/><circle cx="180.7" cy="618.4" r="1.3"/><circle cx="184.3" cy="622.3" r="1.3"/><circle cx="175.6" cy="620.1" r="1.3"/><circle cx="178.4" cy="621.4" r="1.3"/><circle cx="188.6" cy="619.2" r="1.3"/><circle cx="181.5" cy="619.7" r="1.3"/><circle cx="167.8" cy="622.0" r="1.3"/><circle cx="184.7" cy="619.6" r="1.3"/><circle cx="180.1" cy="616.2" r="1.3"/><circle cx="181.1" cy="623.7" r="1.3"/><circle cx="181.5" cy="624.2" r="1.3"/><circle cx="169.7" cy="617.2" r="1.3"/><circle cx="183.3" cy="618.9" r="1.3"/><circle cx="174.0" cy="616.4" r="1.3"/><circle cx="188.0" cy="614.0" r="1.3"/><circle cx="177.2" cy="614.8" r="1.3"/><circle cx="179.4" cy="621.5" r="1.3"/><circle cx="184.9" cy="611.2" r="1.3"/><circle cx="189.0" cy="616.7" r="1.3"/><circle cx="179.2" cy="625.4" r="1.3"/><circle cx="181.6" cy="614.2" r="1.3"/><circle cx="178.9" cy="616.2" r="1.3"/><circle cx="177.2" cy="617.7" r="1.3"/><circle cx="186.2" cy="620.3" r="1.3"/><circle cx="175.4" cy="629.7" r="1.3"/><circle cx="177.2" cy="619.4" r="1.3"/><circle cx="182.2" cy="621.9" r="1.3"/><circle cx="180.4" cy="620.8" r="1.3"/><circle cx="192.1" cy="619.4" r="1.3"/><circle cx="176.8" cy="620.3" r="1.3"/><circle cx="178.1" cy="617.6" r="1.3"/><circle cx="182.9" cy="620.3" r="1.3"/><circle cx="180.6" cy="622.3" r="1.3"/><circle cx="181.1" cy="614.0" r="1.3"/><circle cx="186.2" cy="617.6" r="1.3"/><circle cx="187.8" cy="616.5" r="1.3"/><circle cx="184.7" cy="620.2" r="1.3"/><circle cx="169.1" cy="613.3" r="1.3"/><circle cx="176.6" cy="624.4" r="1.3"/><circle cx="172.9" cy="622.5" r="1.3"/><circle cx="187.2" cy="620.9" r="1.3"/><circle cx="185.2" cy="617.1" r="1.3"/><circle cx="181.9" cy="619.9" r="1.3"/><circle cx="184.0" cy="621.7" r="1.3"/><circle cx="181.0" cy="616.3" r="1.3"/><circle cx="179.3" cy="620.6" r="1.3"/><circle cx="174.0" cy="614.2" r="1.3"/><circle cx="180.0" cy="616.9" r="1.3"/><circle cx="180.7" cy="608.8" r="1.3"/><circle cx="180.4" cy="618.0" r="1.3"/><circle cx="185.7" cy="611.4" r="1.3"/><circle cx="180.5" cy="620.8" r="1.3"/><circle cx="184.3" cy="623.6" r="1.3"/><circle cx="187.1" cy="615.0" r="1.3"/><circle cx="185.1" cy="617.7" r="1.3"/><circle cx="178.1" cy="624.9" r="1.3"/><circle cx="179.0" cy="615.7" r="1.3"/></g>
<g fill="#000" fill-opacity="0.1"><circle cx="141.3" cy="614.4" r="1.3"/><circle cx="143.7" cy="618.2" r="1.3"/><circle cx="144.4" cy="618.3" r="1.3"/><circle cx="140.9" cy="620.2" r="1.3"/><circle cx="140.9" cy="615.6" r="1.3"/><circle cx="141.7" cy="617.1" r="1.3"/><circle cx="144.1" cy="615.1" r="1.3"/><circle cx="142.6" cy="616.9" r="1.3"/><circle cx="139.8" cy="613.6" r="1.3"/><circle cx="141.6" cy="618.2" r="1.3"/><circle cx="142.6" cy="618.5" r="1.3"/><circle cx="142.1" cy="615.6" r="1.3"/><circle cx="142.7" cy="613.9" r="1.3"/><circle cx="139.7" cy="616.0" r="1.3"/><circle cx="139.5" cy="615.4" r="1.3"/><circle cx="140.7" cy="615.3" r="1.3"/><circle cx="141.9" cy="614.5" r="1.3"/><circle cx="141.3" cy="611.7" r="1.3"/><circle cx="142.3" cy="614.3" r="1.3"/><circle cx="142.7" cy="608.3" r="1.3"/><circle cx="140.6" cy="617.7" r="1.3"/><circle cx="137.8" cy="615.9" r="1.3"/><circle cx="142.2" cy="617.3" r="1.3"/><circle cx="139.4" cy="617.7" r="1.3"/></g>
<path d="M186.3,621.8L191.2,616.8L190.6,613.9L193.5,612.2L197.8,614.5L201.7,611.6L207.0,612.2L213.6,610.9L222.8,609.9L225.3,610.1L237.8,610.6L243.7,613.2L249.6,615.8L250.9,615.2L253.9,612.2L257.5,613.9L260.5,617.8L259.5,621.8L255.5,623.7L251.6,624.1L247.6,625.1L247.0,629.3L242.4,627.4L240.4,629.0L237.8,630.3L234.5,627.0L231.8,626.4L226.6,628.7L220.0,629.0L225.4,629.0L220.2,628.7L216.2,625.7L211.6,625.4L206.3,626.4L203.7,624.1L197.1,623.7L190.6,623.1Z" fill="#f8f8f8" stroke="#000" stroke-width="2.3" stroke-linejoin="round"/>
<path d="M210.0,618.5L212.9,615.2L218.8,612.6L225.4,611.2L225.9,611.4L231.8,612.2L237.1,613.9L244.3,616.5L249.6,619.5L252.9,621.4L248.9,623.7L243.7,625.1L239.7,626.7L234.5,627.0L231.8,625.7L226.6,626.7L222.6,627.4L229.4,625.7L224.1,626.7L218.8,625.7L214.9,623.7L210.9,621.8Z" fill="#e4e4e4" stroke="#000" stroke-width="2.3" stroke-linejoin="round"/>
<path d="M215.6,619.8L217.5,616.5L222.1,614.9L227.4,615.5L230.4,618.1L229.4,622.4L226.7,624.7L221.5,625.1L217.5,623.4Z" fill="#8e8e8e" stroke="#000" stroke-width="2.3" stroke-linejoin="round"/>
<path d="M219.2,621.2L222.1,617.9L225.8,621.6L221.5,622.8Z" fill="#1c1c1c" stroke="#000" stroke-width="1.5" stroke-linejoin="round"/>
<path d="M234.5,621.8L238.1,618.1L242.7,621.4L240.4,625.7L237.8,626.7Z" fill="#999" stroke="#000" stroke-width="2.3" stroke-linejoin="round"/>
<path d="M242.4,627.4L247.0,626.4L246.3,629.3Z" fill="#fff" stroke="#000" stroke-width="1.8" stroke-linejoin="round"/>
<ellipse cx="205.0" cy="621.4" rx="2.9" ry="1.1" fill="#fff" stroke="#000" stroke-width="2"/>
<circle cx="253.6" cy="617.8" r="1.5" fill="#000"/>
<circle cx="257.8" cy="617.9" r="0.8" fill="#000"/>
</g>
<g clip-path="url(#cp-c21)">
<g fill="#000" fill-opacity="0.1"><circle cx="348.4" cy="615.7" r="1.3"/><circle cx="362.2" cy="619.8" r="1.3"/><circle cx="345.4" cy="618.0" r="1.3"/><circle cx="357.7" cy="620.4" r="1.3"/><circle cx="371.3" cy="622.0" r="1.3"/><circle cx="330.7" cy="619.0" r="1.3"/><circle cx="366.3" cy="618.4" r="1.3"/><circle cx="353.9" cy="622.3" r="1.3"/><circle cx="340.8" cy="609.7" r="1.3"/><circle cx="348.1" cy="621.0" r="1.3"/><circle cx="348.1" cy="616.6" r="1.3"/><circle cx="373.0" cy="619.4" r="1.3"/><circle cx="330.5" cy="616.8" r="1.3"/><circle cx="353.3" cy="615.1" r="1.3"/><circle cx="321.8" cy="628.9" r="1.3"/><circle cx="375.4" cy="624.7" r="1.3"/><circle cx="376.7" cy="622.6" r="1.3"/><circle cx="373.8" cy="622.2" r="1.3"/><circle cx="376.7" cy="617.8" r="1.3"/><circle cx="348.0" cy="623.5" r="1.3"/><circle cx="343.0" cy="624.9" r="1.3"/><circle cx="346.9" cy="623.1" r="1.3"/><circle cx="347.0" cy="613.4" r="1.3"/><circle cx="321.9" cy="634.1" r="1.3"/><circle cx="351.5" cy="625.8" r="1.3"/><circle cx="371.5" cy="627.6" r="1.3"/><circle cx="357.9" cy="617.3" r="1.3"/><circle cx="345.4" cy="611.4" r="1.3"/><circle cx="340.6" cy="624.0" r="1.3"/><circle cx="364.2" cy="625.9" r="1.3"/><circle cx="323.4" cy="617.1" r="1.3"/><circle cx="357.4" cy="629.2" r="1.3"/><circle cx="318.3" cy="626.2" r="1.3"/><circle cx="355.0" cy="617.8" r="1.3"/><circle cx="396.1" cy="608.7" r="1.3"/><circle cx="343.4" cy="621.0" r="1.3"/><circle cx="394.6" cy="628.0" r="1.3"/><circle cx="397.8" cy="620.6" r="1.3"/><circle cx="367.9" cy="626.1" r="1.3"/><circle cx="356.9" cy="621.6" r="1.3"/><circle cx="340.7" cy="618.2" r="1.3"/><circle cx="316.3" cy="628.7" r="1.3"/><circle cx="334.6" cy="610.7" r="1.3"/><circle cx="351.2" cy="619.8" r="1.3"/><circle cx="349.1" cy="628.1" r="1.3"/><circle cx="342.5" cy="618.8" r="1.3"/><circle cx="327.6" cy="619.9" r="1.3"/><circle cx="334.8" cy="620.9" r="1.3"/><circle cx="417.9" cy="621.8" r="1.3"/><circle cx="325.0" cy="628.6" r="1.3"/><circle cx="365.2" cy="623.7" r="1.3"/><circle cx="361.7" cy="623.7" r="1.3"/><circle cx="360.8" cy="626.3" r="1.3"/><circle cx="368.5" cy="626.0" r="1.3"/><circle cx="333.3" cy="620.0" r="1.3"/><circle cx="328.0" cy="624.3" r="1.3"/><circle cx="364.4" cy="617.9" r="1.3"/><circle cx="358.7" cy="631.8" r="1.3"/><circle cx="373.9" cy="615.0" r="1.3"/><circle cx="342.8" cy="622.8" r="1.3"/><circle cx="344.2" cy="621.7" r="1.3"/><circle cx="372.6" cy="621.5" r="1.3"/><circle cx="319.4" cy="623.2" r="1.3"/><circle cx="342.7" cy="620.5" r="1.3"/><circle cx="331.8" cy="613.8" r="1.3"/><circle cx="315.9" cy="618.4" r="1.3"/><circle cx="320.0" cy="607.8" r="1.3"/><circle cx="371.8" cy="614.8" r="1.3"/><circle cx="328.1" cy="622.4" r="1.3"/><circle cx="327.0" cy="623.0" r="1.3"/><circle cx="333.7" cy="621.4" r="1.3"/><circle cx="347.5" cy="620.0" r="1.3"/><circle cx="344.0" cy="626.3" r="1.3"/><circle cx="332.2" cy="622.4" r="1.3"/><circle cx="348.8" cy="622.2" r="1.3"/><circle cx="368.2" cy="613.3" r="1.3"/><circle cx="351.4" cy="619.2" r="1.3"/><circle cx="337.7" cy="616.2" r="1.3"/><circle cx="326.6" cy="615.4" r="1.3"/><circle cx="319.3" cy="631.2" r="1.3"/><circle cx="384.7" cy="620.0" r="1.3"/><circle cx="362.4" cy="615.6" r="1.3"/><circle cx="348.3" cy="626.5" r="1.3"/><circle cx="344.0" cy="615.5" r="1.3"/><circle cx="339.3" cy="615.5" r="1.3"/><circle cx="312.4" cy="619.0" r="1.3"/><circle cx="335.7" cy="616.4" r="1.3"/><circle cx="324.3" cy="615.8" r="1.3"/><circle cx="350.5" cy="626.2" r="1.3"/><circle cx="340.1" cy="630.0" r="1.3"/><circle cx="318.0" cy="619.3" r="1.3"/><circle cx="347.4" cy="622.5" r="1.3"/><circle cx="371.4" cy="617.5" r="1.3"/><circle cx="315.9" cy="619.2" r="1.3"/><circle cx="351.9" cy="616.9" r="1.3"/><circle cx="365.9" cy="627.5" r="1.3"/><circle cx="368.8" cy="611.4" r="1.3"/><circle cx="349.8" cy="619.0" r="1.3"/><circle cx="350.1" cy="617.9" r="1.3"/><circle cx="355.4" cy="622.9" r="1.3"/><circle cx="363.0" cy="622.6" r="1.3"/><circle cx="354.6" cy="614.7" r="1.3"/><circle cx="335.1" cy="620.6" r="1.3"/><circle cx="336.1" cy="615.3" r="1.3"/><circle cx="345.8" cy="617.4" r="1.3"/><circle cx="335.3" cy="616.0" r="1.3"/><circle cx="327.5" cy="619.6" r="1.3"/><circle cx="329.9" cy="623.0" r="1.3"/><circle cx="341.7" cy="620.6" r="1.3"/><circle cx="354.5" cy="625.7" r="1.3"/><circle cx="359.1" cy="621.0" r="1.3"/><circle cx="341.2" cy="616.4" r="1.3"/><circle cx="337.0" cy="623.1" r="1.3"/><circle cx="350.3" cy="618.3" r="1.3"/><circle cx="313.8" cy="613.1" r="1.3"/><circle cx="352.5" cy="624.6" r="1.3"/><circle cx="353.7" cy="613.8" r="1.3"/><circle cx="340.0" cy="621.0" r="1.3"/><circle cx="323.5" cy="621.6" r="1.3"/><circle cx="340.3" cy="616.3" r="1.3"/><circle cx="316.0" cy="623.6" r="1.3"/><circle cx="353.3" cy="616.0" r="1.3"/><circle cx="321.3" cy="624.0" r="1.3"/><circle cx="358.9" cy="618.6" r="1.3"/><circle cx="382.3" cy="618.7" r="1.3"/><circle cx="320.3" cy="624.9" r="1.3"/><circle cx="340.6" cy="621.5" r="1.3"/><circle cx="345.9" cy="615.5" r="1.3"/><circle cx="317.2" cy="619.1" r="1.3"/><circle cx="377.9" cy="615.5" r="1.3"/><circle cx="376.8" cy="621.0" r="1.3"/><circle cx="319.0" cy="621.2" r="1.3"/><circle cx="358.3" cy="616.0" r="1.3"/><circle cx="319.1" cy="622.0" r="1.3"/><circle cx="326.1" cy="613.4" r="1.3"/><circle cx="339.4" cy="620.8" r="1.3"/><circle cx="332.0" cy="614.7" r="1.3"/><circle cx="350.0" cy="612.2" r="1.3"/><circle cx="357.5" cy="622.2" r="1.3"/><circle cx="384.2" cy="624.0" r="1.3"/><circle cx="353.3" cy="621.2" r="1.3"/><circle cx="345.6" cy="614.1" r="1.3"/><circle cx="379.1" cy="622.4" r="1.3"/><circle cx="338.3" cy="614.9" r="1.3"/><circle cx="379.6" cy="622.4" r="1.3"/><circle cx="317.3" cy="623.0" r="1.3"/><circle cx="389.2" cy="619.9" r="1.3"/><circle cx="354.3" cy="618.1" r="1.3"/><circle cx="330.3" cy="624.8" r="1.3"/><circle cx="416.8" cy="620.5" r="1.3"/><circle cx="342.1" cy="623.5" r="1.3"/><circle cx="337.9" cy="623.3" r="1.3"/><circle cx="364.3" cy="615.5" r="1.3"/><circle cx="320.0" cy="619.7" r="1.3"/><circle cx="364.4" cy="621.2" r="1.3"/><circle cx="373.9" cy="613.9" r="1.3"/><circle cx="356.5" cy="617.2" r="1.3"/><circle cx="347.3" cy="621.4" r="1.3"/><circle cx="322.4" cy="619.0" r="1.3"/><circle cx="317.9" cy="621.2" r="1.3"/><circle cx="325.2" cy="617.8" r="1.3"/><circle cx="350.1" cy="617.1" r="1.3"/><circle cx="371.7" cy="617.2" r="1.3"/><circle cx="364.8" cy="621.3" r="1.3"/><circle cx="320.9" cy="619.0" r="1.3"/><circle cx="325.5" cy="618.4" r="1.3"/><circle cx="338.7" cy="628.1" r="1.3"/><circle cx="335.2" cy="627.0" r="1.3"/><circle cx="355.4" cy="614.2" r="1.3"/><circle cx="368.9" cy="621.7" r="1.3"/><circle cx="340.1" cy="618.9" r="1.3"/><circle cx="351.0" cy="618.6" r="1.3"/><circle cx="332.6" cy="618.4" r="1.3"/><circle cx="372.2" cy="617.2" r="1.3"/><circle cx="353.8" cy="614.9" r="1.3"/><circle cx="328.4" cy="613.9" r="1.3"/><circle cx="340.4" cy="623.0" r="1.3"/><circle cx="352.1" cy="617.8" r="1.3"/><circle cx="359.2" cy="618.5" r="1.3"/><circle cx="353.7" cy="621.2" r="1.3"/><circle cx="357.6" cy="609.0" r="1.3"/><circle cx="314.7" cy="623.4" r="1.3"/><circle cx="342.5" cy="630.0" r="1.3"/><circle cx="339.5" cy="617.5" r="1.3"/><circle cx="379.7" cy="622.5" r="1.3"/><circle cx="389.1" cy="622.3" r="1.3"/><circle cx="340.3" cy="623.2" r="1.3"/><circle cx="326.7" cy="618.0" r="1.3"/><circle cx="332.1" cy="619.0" r="1.3"/><circle cx="363.1" cy="617.9" r="1.3"/><circle cx="352.5" cy="617.8" r="1.3"/><circle cx="365.5" cy="607.7" r="1.3"/><circle cx="340.2" cy="620.8" r="1.3"/><circle cx="320.0" cy="624.5" r="1.3"/><circle cx="350.0" cy="625.7" r="1.3"/><circle cx="367.3" cy="622.9" r="1.3"/><circle cx="341.5" cy="615.2" r="1.3"/><circle cx="339.9" cy="618.0" r="1.3"/><circle cx="350.8" cy="617.9" r="1.3"/><circle cx="415.9" cy="612.9" r="1.3"/><circle cx="372.2" cy="617.9" r="1.3"/><circle cx="339.4" cy="624.1" r="1.3"/><circle cx="345.1" cy="614.6" r="1.3"/><circle cx="354.6" cy="619.1" r="1.3"/><circle cx="320.5" cy="616.7" r="1.3"/><circle cx="356.2" cy="621.3" r="1.3"/><circle cx="338.3" cy="629.6" r="1.3"/><circle cx="354.7" cy="617.3" r="1.3"/><circle cx="350.5" cy="619.5" r="1.3"/><circle cx="312.8" cy="629.2" r="1.3"/><circle cx="340.7" cy="618.8" r="1.3"/><circle cx="331.9" cy="624.4" r="1.3"/><circle cx="345.6" cy="627.6" r="1.3"/><circle cx="363.3" cy="627.3" r="1.3"/><circle cx="342.3" cy="621.7" r="1.3"/><circle cx="335.0" cy="619.3" r="1.3"/><circle cx="323.0" cy="617.1" r="1.3"/><circle cx="373.2" cy="621.2" r="1.3"/><circle cx="373.4" cy="623.8" r="1.3"/><circle cx="366.3" cy="624.5" r="1.3"/><circle cx="331.0" cy="623.6" r="1.3"/><circle cx="337.5" cy="617.6" r="1.3"/><circle cx="372.6" cy="629.6" r="1.3"/><circle cx="322.4" cy="627.7" r="1.3"/><circle cx="364.2" cy="616.2" r="1.3"/><circle cx="351.3" cy="621.6" r="1.3"/><circle cx="353.7" cy="618.4" r="1.3"/><circle cx="315.3" cy="620.1" r="1.3"/><circle cx="364.9" cy="623.5" r="1.3"/><circle cx="360.3" cy="624.9" r="1.3"/><circle cx="322.1" cy="619.8" r="1.3"/><circle cx="352.9" cy="624.4" r="1.3"/><circle cx="348.6" cy="622.3" r="1.3"/><circle cx="348.1" cy="629.3" r="1.3"/><circle cx="402.2" cy="621.0" r="1.3"/><circle cx="350.2" cy="627.6" r="1.3"/><circle cx="355.7" cy="623.0" r="1.3"/><circle cx="368.5" cy="620.9" r="1.3"/><circle cx="325.2" cy="619.6" r="1.3"/><circle cx="352.8" cy="618.8" r="1.3"/><circle cx="329.6" cy="618.4" r="1.3"/><circle cx="342.9" cy="618.4" r="1.3"/><circle cx="345.9" cy="626.2" r="1.3"/><circle cx="351.9" cy="619.9" r="1.3"/><circle cx="317.9" cy="615.2" r="1.3"/><circle cx="353.7" cy="616.1" r="1.3"/><circle cx="354.9" cy="615.2" r="1.3"/><circle cx="348.1" cy="619.7" r="1.3"/><circle cx="368.0" cy="618.3" r="1.3"/><circle cx="336.4" cy="621.1" r="1.3"/><circle cx="346.3" cy="627.5" r="1.3"/><circle cx="339.1" cy="617.6" r="1.3"/><circle cx="337.6" cy="622.1" r="1.3"/><circle cx="350.4" cy="623.1" r="1.3"/><circle cx="313.0" cy="631.0" r="1.3"/><circle cx="387.5" cy="619.9" r="1.3"/><circle cx="317.1" cy="620.7" r="1.3"/><circle cx="354.6" cy="610.1" r="1.3"/><circle cx="345.3" cy="613.5" r="1.3"/><circle cx="355.6" cy="626.1" r="1.3"/><circle cx="368.9" cy="613.3" r="1.3"/><circle cx="376.9" cy="624.0" r="1.3"/><circle cx="336.7" cy="622.2" r="1.3"/><circle cx="380.0" cy="618.5" r="1.3"/><circle cx="344.6" cy="617.5" r="1.3"/><circle cx="371.7" cy="610.5" r="1.3"/><circle cx="377.8" cy="615.7" r="1.3"/><circle cx="366.4" cy="612.8" r="1.3"/><circle cx="323.4" cy="617.4" r="1.3"/><circle cx="364.1" cy="612.8" r="1.3"/><circle cx="358.9" cy="617.2" r="1.3"/><circle cx="373.7" cy="618.6" r="1.3"/><circle cx="356.2" cy="619.2" r="1.3"/><circle cx="386.4" cy="618.4" r="1.3"/><circle cx="344.4" cy="628.8" r="1.3"/><circle cx="346.8" cy="623.0" r="1.3"/><circle cx="328.0" cy="620.9" r="1.3"/><circle cx="330.1" cy="613.3" r="1.3"/><circle cx="312.3" cy="625.1" r="1.3"/><circle cx="354.9" cy="613.3" r="1.3"/><circle cx="386.9" cy="616.9" r="1.3"/><circle cx="336.5" cy="621.1" r="1.3"/><circle cx="318.7" cy="612.8" r="1.3"/><circle cx="327.8" cy="625.2" r="1.3"/><circle cx="367.0" cy="613.0" r="1.3"/><circle cx="372.8" cy="620.2" r="1.3"/><circle cx="356.6" cy="620.2" r="1.3"/><circle cx="354.6" cy="615.6" r="1.3"/><circle cx="324.0" cy="616.9" r="1.3"/><circle cx="336.5" cy="622.7" r="1.3"/><circle cx="316.9" cy="627.1" r="1.3"/><circle cx="330.4" cy="617.4" r="1.3"/><circle cx="361.2" cy="621.9" r="1.3"/><circle cx="337.2" cy="615.3" r="1.3"/><circle cx="321.9" cy="612.9" r="1.3"/><circle cx="371.4" cy="624.8" r="1.3"/><circle cx="388.1" cy="622.2" r="1.3"/><circle cx="352.7" cy="623.4" r="1.3"/><circle cx="367.0" cy="618.9" r="1.3"/><circle cx="353.1" cy="629.5" r="1.3"/><circle cx="322.8" cy="623.3" r="1.3"/><circle cx="372.4" cy="618.5" r="1.3"/><circle cx="360.5" cy="619.8" r="1.3"/><circle cx="351.9" cy="617.6" r="1.3"/><circle cx="344.4" cy="620.0" r="1.3"/><circle cx="371.1" cy="629.9" r="1.3"/><circle cx="344.9" cy="624.3" r="1.3"/><circle cx="369.5" cy="623.5" r="1.3"/><circle cx="363.7" cy="615.8" r="1.3"/><circle cx="372.9" cy="615.8" r="1.3"/><circle cx="374.8" cy="623.0" r="1.3"/><circle cx="322.2" cy="625.2" r="1.3"/><circle cx="329.3" cy="616.7" r="1.3"/><circle cx="368.5" cy="617.0" r="1.3"/><circle cx="387.7" cy="623.1" r="1.3"/><circle cx="332.6" cy="614.6" r="1.3"/><circle cx="375.0" cy="615.3" r="1.3"/><circle cx="345.0" cy="618.8" r="1.3"/><circle cx="339.1" cy="622.2" r="1.3"/><circle cx="393.4" cy="617.2" r="1.3"/><circle cx="364.7" cy="624.8" r="1.3"/><circle cx="338.4" cy="619.3" r="1.3"/><circle cx="314.0" cy="624.8" r="1.3"/><circle cx="332.7" cy="617.1" r="1.3"/><circle cx="346.6" cy="616.2" r="1.3"/><circle cx="320.9" cy="618.7" r="1.3"/><circle cx="379.4" cy="619.1" r="1.3"/><circle cx="357.2" cy="613.5" r="1.3"/><circle cx="335.8" cy="613.2" r="1.3"/><circle cx="342.5" cy="622.7" r="1.3"/></g>
<g fill="#000" fill-opacity="0.1"><circle cx="447.3" cy="623.4" r="1.3"/><circle cx="420.6" cy="613.4" r="1.3"/><circle cx="396.4" cy="611.4" r="1.3"/><circle cx="399.0" cy="619.1" r="1.3"/><circle cx="466.4" cy="621.7" r="1.3"/><circle cx="386.3" cy="623.2" r="1.3"/><circle cx="414.8" cy="611.9" r="1.3"/><circle cx="492.6" cy="627.4" r="1.3"/><circle cx="401.9" cy="616.3" r="1.3"/><circle cx="403.1" cy="629.4" r="1.3"/><circle cx="417.5" cy="618.1" r="1.3"/><circle cx="410.4" cy="620.8" r="1.3"/><circle cx="426.1" cy="611.9" r="1.3"/><circle cx="411.2" cy="627.1" r="1.3"/><circle cx="403.9" cy="623.9" r="1.3"/><circle cx="477.9" cy="617.5" r="1.3"/><circle cx="454.5" cy="620.7" r="1.3"/><circle cx="397.8" cy="616.4" r="1.3"/><circle cx="468.6" cy="614.7" r="1.3"/><circle cx="458.5" cy="621.0" r="1.3"/><circle cx="468.1" cy="619.4" r="1.3"/><circle cx="487.3" cy="623.9" r="1.3"/><circle cx="441.9" cy="618.6" r="1.3"/><circle cx="410.4" cy="625.8" r="1.3"/><circle cx="470.2" cy="627.6" r="1.3"/><circle cx="446.3" cy="622.0" r="1.3"/><circle cx="421.4" cy="623.1" r="1.3"/><circle cx="408.5" cy="618.8" r="1.3"/><circle cx="388.2" cy="613.3" r="1.3"/><circle cx="459.3" cy="617.9" r="1.3"/><circle cx="428.3" cy="620.7" r="1.3"/><circle cx="415.9" cy="618.1" r="1.3"/><circle cx="455.4" cy="625.8" r="1.3"/><circle cx="461.0" cy="618.8" r="1.3"/><circle cx="470.6" cy="612.1" r="1.3"/><circle cx="466.9" cy="626.1" r="1.3"/><circle cx="420.0" cy="614.1" r="1.3"/><circle cx="420.9" cy="624.8" r="1.3"/><circle cx="401.7" cy="623.6" r="1.3"/><circle cx="441.0" cy="616.3" r="1.3"/><circle cx="458.3" cy="621.8" r="1.3"/><circle cx="419.6" cy="618.7" r="1.3"/><circle cx="387.7" cy="615.8" r="1.3"/><circle cx="479.7" cy="622.6" r="1.3"/><circle cx="458.1" cy="616.2" r="1.3"/><circle cx="447.1" cy="618.0" r="1.3"/><circle cx="412.0" cy="624.2" r="1.3"/><circle cx="478.1" cy="613.9" r="1.3"/><circle cx="397.7" cy="616.7" r="1.3"/><circle cx="438.6" cy="613.8" r="1.3"/><circle cx="485.1" cy="625.6" r="1.3"/><circle cx="476.1" cy="615.9" r="1.3"/><circle cx="455.9" cy="621.6" r="1.3"/><circle cx="462.4" cy="618.5" r="1.3"/><circle cx="462.3" cy="617.4" r="1.3"/><circle cx="387.9" cy="617.8" r="1.3"/><circle cx="450.6" cy="621.5" r="1.3"/><circle cx="404.9" cy="617.0" r="1.3"/><circle cx="406.2" cy="625.2" r="1.3"/><circle cx="494.1" cy="623.5" r="1.3"/><circle cx="473.8" cy="615.9" r="1.3"/><circle cx="388.4" cy="625.0" r="1.3"/><circle cx="478.1" cy="619.8" r="1.3"/><circle cx="453.6" cy="620.3" r="1.3"/><circle cx="396.2" cy="619.8" r="1.3"/><circle cx="432.1" cy="621.4" r="1.3"/><circle cx="444.9" cy="620.4" r="1.3"/><circle cx="476.8" cy="618.9" r="1.3"/><circle cx="392.9" cy="620.9" r="1.3"/><circle cx="419.8" cy="625.8" r="1.3"/><circle cx="418.7" cy="617.3" r="1.3"/><circle cx="472.8" cy="618.8" r="1.3"/><circle cx="404.5" cy="624.1" r="1.3"/><circle cx="442.8" cy="613.5" r="1.3"/><circle cx="383.6" cy="620.2" r="1.3"/><circle cx="439.0" cy="619.0" r="1.3"/><circle cx="429.6" cy="625.5" r="1.3"/><circle cx="464.8" cy="622.3" r="1.3"/><circle cx="448.4" cy="615.9" r="1.3"/><circle cx="448.9" cy="623.0" r="1.3"/><circle cx="406.5" cy="629.3" r="1.3"/><circle cx="474.1" cy="609.8" r="1.3"/><circle cx="492.5" cy="614.1" r="1.3"/><circle cx="388.4" cy="630.8" r="1.3"/><circle cx="435.9" cy="623.1" r="1.3"/><circle cx="459.9" cy="623.4" r="1.3"/><circle cx="462.9" cy="616.3" r="1.3"/><circle cx="402.2" cy="621.1" r="1.3"/><circle cx="427.1" cy="619.4" r="1.3"/><circle cx="466.1" cy="622.7" r="1.3"/><circle cx="440.4" cy="617.4" r="1.3"/><circle cx="462.3" cy="621.0" r="1.3"/><circle cx="403.0" cy="619.5" r="1.3"/><circle cx="462.0" cy="625.4" r="1.3"/><circle cx="493.8" cy="619.8" r="1.3"/><circle cx="487.6" cy="609.8" r="1.3"/><circle cx="464.5" cy="619.7" r="1.3"/><circle cx="404.1" cy="618.5" r="1.3"/><circle cx="381.5" cy="624.4" r="1.3"/><circle cx="453.7" cy="614.9" r="1.3"/><circle cx="410.9" cy="618.5" r="1.3"/><circle cx="454.0" cy="622.0" r="1.3"/><circle cx="496.0" cy="619.6" r="1.3"/><circle cx="400.5" cy="621.2" r="1.3"/><circle cx="421.6" cy="626.1" r="1.3"/><circle cx="433.2" cy="615.5" r="1.3"/><circle cx="392.0" cy="621.9" r="1.3"/><circle cx="471.0" cy="621.5" r="1.3"/><circle cx="435.1" cy="629.2" r="1.3"/><circle cx="473.0" cy="619.5" r="1.3"/><circle cx="435.7" cy="621.0" r="1.3"/><circle cx="392.7" cy="618.0" r="1.3"/><circle cx="445.9" cy="617.1" r="1.3"/><circle cx="409.5" cy="619.9" r="1.3"/><circle cx="382.5" cy="625.6" r="1.3"/><circle cx="490.6" cy="616.4" r="1.3"/><circle cx="494.7" cy="613.7" r="1.3"/><circle cx="424.9" cy="622.6" r="1.3"/><circle cx="475.0" cy="621.2" r="1.3"/><circle cx="381.5" cy="618.1" r="1.3"/><circle cx="405.0" cy="616.5" r="1.3"/><circle cx="381.1" cy="617.9" r="1.3"/><circle cx="477.1" cy="621.1" r="1.3"/><circle cx="385.1" cy="615.4" r="1.3"/><circle cx="484.0" cy="618.4" r="1.3"/><circle cx="417.8" cy="619.7" r="1.3"/><circle cx="453.1" cy="623.6" r="1.3"/><circle cx="454.8" cy="616.8" r="1.3"/><circle cx="404.1" cy="620.4" r="1.3"/><circle cx="424.8" cy="629.1" r="1.3"/><circle cx="392.2" cy="618.2" r="1.3"/><circle cx="403.4" cy="618.8" r="1.3"/><circle cx="433.4" cy="614.9" r="1.3"/><circle cx="462.7" cy="616.9" r="1.3"/><circle cx="431.4" cy="626.1" r="1.3"/><circle cx="386.3" cy="622.8" r="1.3"/><circle cx="435.1" cy="614.9" r="1.3"/><circle cx="463.5" cy="623.7" r="1.3"/><circle cx="408.1" cy="616.2" r="1.3"/><circle cx="435.2" cy="614.8" r="1.3"/><circle cx="396.6" cy="624.8" r="1.3"/><circle cx="387.3" cy="616.9" r="1.3"/><circle cx="407.9" cy="623.0" r="1.3"/><circle cx="425.9" cy="619.8" r="1.3"/><circle cx="472.2" cy="622.7" r="1.3"/><circle cx="466.8" cy="614.7" r="1.3"/><circle cx="384.5" cy="629.5" r="1.3"/><circle cx="473.9" cy="626.4" r="1.3"/><circle cx="384.5" cy="623.0" r="1.3"/><circle cx="488.9" cy="620.9" r="1.3"/><circle cx="405.7" cy="615.4" r="1.3"/><circle cx="454.7" cy="611.4" r="1.3"/><circle cx="487.6" cy="619.8" r="1.3"/><circle cx="382.1" cy="622.4" r="1.3"/><circle cx="468.6" cy="629.0" r="1.3"/><circle cx="463.1" cy="626.9" r="1.3"/><circle cx="401.9" cy="620.9" r="1.3"/><circle cx="439.9" cy="617.7" r="1.3"/><circle cx="392.4" cy="622.0" r="1.3"/><circle cx="487.2" cy="611.4" r="1.3"/><circle cx="380.3" cy="623.2" r="1.3"/><circle cx="476.1" cy="615.7" r="1.3"/><circle cx="438.8" cy="615.9" r="1.3"/><circle cx="473.5" cy="616.1" r="1.3"/><circle cx="389.1" cy="625.0" r="1.3"/><circle cx="414.0" cy="621.8" r="1.3"/><circle cx="426.4" cy="626.9" r="1.3"/><circle cx="382.8" cy="620.3" r="1.3"/><circle cx="477.1" cy="621.8" r="1.3"/><circle cx="394.3" cy="615.7" r="1.3"/><circle cx="456.1" cy="621.2" r="1.3"/><circle cx="392.9" cy="624.3" r="1.3"/><circle cx="494.2" cy="616.2" r="1.3"/><circle cx="391.0" cy="618.9" r="1.3"/><circle cx="465.4" cy="624.8" r="1.3"/><circle cx="391.9" cy="613.4" r="1.3"/><circle cx="423.0" cy="617.7" r="1.3"/><circle cx="397.3" cy="626.7" r="1.3"/><circle cx="451.0" cy="627.1" r="1.3"/><circle cx="380.8" cy="619.0" r="1.3"/><circle cx="388.8" cy="624.9" r="1.3"/><circle cx="450.1" cy="624.2" r="1.3"/><circle cx="440.9" cy="615.9" r="1.3"/><circle cx="451.5" cy="621.2" r="1.3"/><circle cx="455.9" cy="625.9" r="1.3"/><circle cx="473.2" cy="616.6" r="1.3"/><circle cx="486.8" cy="623.5" r="1.3"/><circle cx="383.6" cy="614.3" r="1.3"/><circle cx="459.7" cy="622.6" r="1.3"/><circle cx="482.7" cy="616.4" r="1.3"/><circle cx="401.0" cy="624.2" r="1.3"/><circle cx="462.7" cy="618.4" r="1.3"/><circle cx="409.6" cy="618.8" r="1.3"/><circle cx="418.0" cy="623.7" r="1.3"/><circle cx="391.1" cy="608.9" r="1.3"/><circle cx="456.5" cy="624.1" r="1.3"/><circle cx="489.1" cy="620.6" r="1.3"/><circle cx="496.3" cy="612.0" r="1.3"/><circle cx="468.1" cy="619.5" r="1.3"/><circle cx="428.3" cy="623.1" r="1.3"/><circle cx="382.4" cy="621.1" r="1.3"/><circle cx="487.7" cy="628.7" r="1.3"/><circle cx="418.5" cy="620.9" r="1.3"/><circle cx="484.1" cy="612.8" r="1.3"/><circle cx="473.0" cy="618.1" r="1.3"/><circle cx="476.6" cy="619.6" r="1.3"/><circle cx="416.7" cy="617.2" r="1.3"/><circle cx="442.9" cy="617.1" r="1.3"/><circle cx="493.0" cy="622.7" r="1.3"/><circle cx="456.0" cy="624.4" r="1.3"/><circle cx="443.0" cy="624.0" r="1.3"/><circle cx="486.9" cy="618.4" r="1.3"/><circle cx="460.7" cy="621.8" r="1.3"/><circle cx="404.8" cy="619.6" r="1.3"/><circle cx="413.6" cy="620.6" r="1.3"/><circle cx="410.4" cy="619.6" r="1.3"/><circle cx="463.7" cy="622.6" r="1.3"/><circle cx="431.2" cy="619.8" r="1.3"/><circle cx="460.4" cy="617.5" r="1.3"/><circle cx="468.1" cy="613.5" r="1.3"/><circle cx="409.1" cy="620.0" r="1.3"/><circle cx="460.9" cy="621.0" r="1.3"/><circle cx="404.5" cy="619.4" r="1.3"/><circle cx="455.3" cy="630.8" r="1.3"/><circle cx="449.2" cy="616.8" r="1.3"/><circle cx="461.3" cy="615.3" r="1.3"/><circle cx="415.6" cy="621.4" r="1.3"/><circle cx="381.7" cy="620.6" r="1.3"/><circle cx="422.3" cy="621.3" r="1.3"/><circle cx="437.8" cy="621.6" r="1.3"/><circle cx="493.4" cy="618.7" r="1.3"/><circle cx="470.0" cy="616.9" r="1.3"/><circle cx="400.8" cy="622.9" r="1.3"/><circle cx="427.8" cy="622.1" r="1.3"/><circle cx="460.7" cy="613.6" r="1.3"/><circle cx="391.1" cy="622.3" r="1.3"/><circle cx="489.1" cy="615.6" r="1.3"/><circle cx="383.6" cy="626.6" r="1.3"/><circle cx="477.0" cy="621.2" r="1.3"/><circle cx="473.9" cy="628.2" r="1.3"/><circle cx="458.5" cy="619.9" r="1.3"/><circle cx="402.2" cy="620.6" r="1.3"/><circle cx="485.9" cy="623.4" r="1.3"/><circle cx="448.7" cy="625.2" r="1.3"/><circle cx="457.4" cy="621.0" r="1.3"/><circle cx="391.4" cy="622.1" r="1.3"/><circle cx="495.0" cy="615.5" r="1.3"/><circle cx="446.6" cy="624.1" r="1.3"/><circle cx="406.1" cy="620.7" r="1.3"/><circle cx="479.7" cy="620.3" r="1.3"/><circle cx="395.2" cy="623.9" r="1.3"/><circle cx="464.5" cy="619.1" r="1.3"/><circle cx="396.2" cy="620.8" r="1.3"/><circle cx="422.8" cy="616.9" r="1.3"/><circle cx="441.2" cy="622.4" r="1.3"/><circle cx="473.1" cy="622.0" r="1.3"/><circle cx="413.4" cy="614.8" r="1.3"/><circle cx="406.2" cy="624.9" r="1.3"/><circle cx="402.7" cy="620.8" r="1.3"/><circle cx="422.7" cy="624.1" r="1.3"/><circle cx="455.0" cy="611.7" r="1.3"/><circle cx="385.9" cy="621.5" r="1.3"/><circle cx="457.6" cy="621.6" r="1.3"/><circle cx="383.4" cy="617.4" r="1.3"/><circle cx="431.3" cy="623.5" r="1.3"/><circle cx="463.2" cy="623.1" r="1.3"/><circle cx="391.0" cy="623.5" r="1.3"/><circle cx="400.3" cy="623.2" r="1.3"/><circle cx="407.0" cy="618.0" r="1.3"/><circle cx="387.9" cy="620.8" r="1.3"/><circle cx="422.3" cy="610.3" r="1.3"/><circle cx="444.9" cy="621.9" r="1.3"/><circle cx="388.4" cy="621.2" r="1.3"/><circle cx="445.9" cy="626.8" r="1.3"/><circle cx="481.8" cy="628.1" r="1.3"/><circle cx="392.9" cy="618.1" r="1.3"/><circle cx="490.4" cy="616.9" r="1.3"/><circle cx="400.0" cy="619.5" r="1.3"/><circle cx="481.2" cy="620.4" r="1.3"/><circle cx="411.0" cy="621.7" r="1.3"/><circle cx="488.1" cy="613.4" r="1.3"/><circle cx="388.7" cy="621.7" r="1.3"/><circle cx="433.0" cy="618.8" r="1.3"/><circle cx="457.6" cy="622.6" r="1.3"/><circle cx="422.3" cy="628.8" r="1.3"/><circle cx="436.3" cy="628.3" r="1.3"/><circle cx="401.1" cy="626.1" r="1.3"/><circle cx="440.2" cy="620.4" r="1.3"/><circle cx="382.9" cy="613.2" r="1.3"/><circle cx="442.8" cy="621.3" r="1.3"/><circle cx="407.4" cy="614.3" r="1.3"/><circle cx="456.2" cy="620.0" r="1.3"/><circle cx="397.0" cy="623.4" r="1.3"/><circle cx="466.6" cy="610.4" r="1.3"/><circle cx="480.3" cy="613.9" r="1.3"/><circle cx="401.3" cy="626.7" r="1.3"/><circle cx="406.5" cy="612.6" r="1.3"/><circle cx="389.6" cy="614.8" r="1.3"/><circle cx="405.4" cy="624.4" r="1.3"/><circle cx="396.4" cy="621.0" r="1.3"/><circle cx="402.4" cy="620.0" r="1.3"/><circle cx="489.9" cy="614.4" r="1.3"/><circle cx="427.0" cy="619.7" r="1.3"/><circle cx="491.0" cy="619.4" r="1.3"/><circle cx="407.3" cy="615.0" r="1.3"/><circle cx="491.0" cy="620.7" r="1.3"/><circle cx="437.6" cy="625.8" r="1.3"/><circle cx="405.3" cy="619.7" r="1.3"/><circle cx="477.6" cy="624.9" r="1.3"/><circle cx="433.4" cy="635.8" r="1.3"/><circle cx="406.5" cy="623.6" r="1.3"/><circle cx="427.6" cy="619.1" r="1.3"/><circle cx="420.2" cy="619.6" r="1.3"/><circle cx="423.8" cy="619.2" r="1.3"/><circle cx="399.0" cy="620.0" r="1.3"/><circle cx="451.1" cy="619.9" r="1.3"/><circle cx="410.2" cy="614.8" r="1.3"/><circle cx="463.3" cy="621.5" r="1.3"/><circle cx="396.1" cy="620.1" r="1.3"/><circle cx="492.3" cy="622.1" r="1.3"/><circle cx="397.5" cy="623.3" r="1.3"/><circle cx="448.0" cy="623.9" r="1.3"/><circle cx="483.7" cy="622.9" r="1.3"/><circle cx="399.6" cy="621.1" r="1.3"/><circle cx="448.5" cy="615.9" r="1.3"/><circle cx="483.9" cy="621.3" r="1.3"/><circle cx="457.4" cy="626.7" r="1.3"/><circle cx="411.5" cy="611.9" r="1.3"/><circle cx="490.2" cy="618.9" r="1.3"/><circle cx="487.0" cy="620.7" r="1.3"/><circle cx="392.2" cy="623.5" r="1.3"/><circle cx="413.8" cy="620.4" r="1.3"/><circle cx="493.1" cy="623.0" r="1.3"/><circle cx="441.9" cy="616.8" r="1.3"/><circle cx="479.3" cy="622.1" r="1.3"/><circle cx="440.0" cy="614.3" r="1.3"/><circle cx="393.6" cy="620.2" r="1.3"/><circle cx="448.6" cy="626.1" r="1.3"/><circle cx="473.7" cy="628.7" r="1.3"/><circle cx="402.5" cy="613.6" r="1.3"/><circle cx="388.9" cy="624.4" r="1.3"/><circle cx="401.2" cy="616.7" r="1.3"/><circle cx="461.0" cy="619.9" r="1.3"/><circle cx="422.9" cy="623.1" r="1.3"/><circle cx="441.3" cy="619.3" r="1.3"/><circle cx="466.7" cy="618.5" r="1.3"/><circle cx="453.0" cy="613.8" r="1.3"/><circle cx="473.6" cy="621.1" r="1.3"/><circle cx="381.1" cy="613.8" r="1.3"/><circle cx="463.0" cy="621.0" r="1.3"/><circle cx="455.8" cy="624.5" r="1.3"/><circle cx="471.9" cy="629.6" r="1.3"/><circle cx="407.3" cy="610.4" r="1.3"/><circle cx="404.2" cy="624.5" r="1.3"/><circle cx="427.9" cy="628.8" r="1.3"/><circle cx="407.2" cy="617.8" r="1.3"/><circle cx="466.0" cy="616.1" r="1.3"/><circle cx="469.7" cy="624.8" r="1.3"/><circle cx="394.9" cy="620.5" r="1.3"/><circle cx="411.1" cy="622.9" r="1.3"/><circle cx="384.2" cy="622.8" r="1.3"/><circle cx="429.2" cy="623.2" r="1.3"/><circle cx="389.1" cy="611.3" r="1.3"/><circle cx="447.5" cy="615.0" r="1.3"/><circle cx="421.6" cy="618.7" r="1.3"/><circle cx="400.5" cy="615.7" r="1.3"/><circle cx="436.4" cy="626.3" r="1.3"/><circle cx="398.8" cy="620.7" r="1.3"/><circle cx="423.3" cy="627.0" r="1.3"/><circle cx="477.8" cy="618.3" r="1.3"/><circle cx="455.1" cy="615.6" r="1.3"/><circle cx="493.1" cy="615.1" r="1.3"/><circle cx="403.0" cy="620.4" r="1.3"/><circle cx="409.9" cy="616.5" r="1.3"/><circle cx="476.1" cy="613.4" r="1.3"/><circle cx="482.4" cy="615.1" r="1.3"/><circle cx="448.9" cy="620.2" r="1.3"/><circle cx="442.6" cy="620.7" r="1.3"/><circle cx="464.9" cy="619.8" r="1.3"/><circle cx="380.6" cy="621.6" r="1.3"/><circle cx="400.3" cy="619.9" r="1.3"/><circle cx="406.9" cy="619.6" r="1.3"/><circle cx="411.0" cy="617.0" r="1.3"/><circle cx="382.3" cy="608.0" r="1.3"/><circle cx="393.4" cy="630.2" r="1.3"/><circle cx="397.4" cy="615.6" r="1.3"/><circle cx="419.2" cy="616.3" r="1.3"/><circle cx="428.8" cy="619.5" r="1.3"/><circle cx="436.0" cy="619.9" r="1.3"/><circle cx="389.8" cy="621.4" r="1.3"/><circle cx="399.0" cy="624.9" r="1.3"/><circle cx="461.5" cy="623.2" r="1.3"/><circle cx="410.8" cy="621.8" r="1.3"/><circle cx="420.0" cy="613.4" r="1.3"/><circle cx="437.5" cy="623.6" r="1.3"/><circle cx="445.6" cy="628.9" r="1.3"/><circle cx="386.0" cy="623.7" r="1.3"/><circle cx="425.1" cy="625.3" r="1.3"/><circle cx="463.9" cy="621.0" r="1.3"/><circle cx="473.8" cy="627.4" r="1.3"/><circle cx="391.0" cy="617.7" r="1.3"/><circle cx="462.8" cy="618.6" r="1.3"/><circle cx="474.1" cy="620.8" r="1.3"/><circle cx="390.9" cy="617.1" r="1.3"/><circle cx="457.6" cy="617.9" r="1.3"/><circle cx="402.5" cy="619.1" r="1.3"/><circle cx="448.2" cy="624.6" r="1.3"/><circle cx="408.2" cy="623.7" r="1.3"/><circle cx="410.2" cy="615.4" r="1.3"/><circle cx="464.8" cy="622.4" r="1.3"/><circle cx="383.6" cy="619.5" r="1.3"/><circle cx="414.0" cy="617.1" r="1.3"/><circle cx="454.9" cy="617.9" r="1.3"/><circle cx="485.5" cy="614.6" r="1.3"/><circle cx="403.9" cy="617.7" r="1.3"/><circle cx="410.5" cy="625.7" r="1.3"/><circle cx="398.4" cy="621.1" r="1.3"/><circle cx="476.8" cy="627.1" r="1.3"/><circle cx="463.8" cy="627.2" r="1.3"/><circle cx="416.2" cy="618.1" r="1.3"/></g>
<g fill="#000" fill-opacity="0.1"><circle cx="318.8" cy="626.6" r="1.3"/><circle cx="328.4" cy="622.1" r="1.3"/><circle cx="323.3" cy="620.8" r="1.3"/><circle cx="319.1" cy="619.8" r="1.3"/><circle cx="331.3" cy="616.2" r="1.3"/><circle cx="318.8" cy="620.7" r="1.3"/><circle cx="326.3" cy="623.7" r="1.3"/><circle cx="317.3" cy="619.4" r="1.3"/><circle cx="320.7" cy="614.6" r="1.3"/><circle cx="322.4" cy="617.9" r="1.3"/><circle cx="326.5" cy="621.9" r="1.3"/><circle cx="318.2" cy="620.4" r="1.3"/><circle cx="320.3" cy="617.2" r="1.3"/><circle cx="319.6" cy="624.7" r="1.3"/><circle cx="320.0" cy="612.5" r="1.3"/><circle cx="318.2" cy="623.5" r="1.3"/><circle cx="332.5" cy="615.4" r="1.3"/><circle cx="320.3" cy="618.6" r="1.3"/><circle cx="315.2" cy="621.8" r="1.3"/><circle cx="321.8" cy="621.2" r="1.3"/><circle cx="332.9" cy="618.8" r="1.3"/><circle cx="325.9" cy="623.7" r="1.3"/><circle cx="318.9" cy="617.4" r="1.3"/><circle cx="329.6" cy="623.1" r="1.3"/><circle cx="322.7" cy="615.2" r="1.3"/><circle cx="326.3" cy="622.3" r="1.3"/><circle cx="332.7" cy="626.5" r="1.3"/><circle cx="325.9" cy="621.2" r="1.3"/><circle cx="322.3" cy="617.6" r="1.3"/><circle cx="323.5" cy="621.1" r="1.3"/><circle cx="325.2" cy="624.8" r="1.3"/><circle cx="323.5" cy="617.6" r="1.3"/><circle cx="325.9" cy="626.8" r="1.3"/><circle cx="317.9" cy="621.8" r="1.3"/><circle cx="324.7" cy="622.3" r="1.3"/><circle cx="324.5" cy="619.6" r="1.3"/><circle cx="321.5" cy="627.4" r="1.3"/><circle cx="330.4" cy="613.9" r="1.3"/><circle cx="309.7" cy="621.9" r="1.3"/><circle cx="318.7" cy="617.7" r="1.3"/><circle cx="314.3" cy="621.5" r="1.3"/><circle cx="321.7" cy="617.6" r="1.3"/><circle cx="326.4" cy="630.6" r="1.3"/><circle cx="329.2" cy="625.1" r="1.3"/><circle cx="320.0" cy="622.9" r="1.3"/><circle cx="321.8" cy="625.1" r="1.3"/><circle cx="324.8" cy="619.8" r="1.3"/><circle cx="324.7" cy="616.9" r="1.3"/><circle cx="325.9" cy="626.6" r="1.3"/><circle cx="320.2" cy="622.4" r="1.3"/><circle cx="313.9" cy="624.1" r="1.3"/><circle cx="326.3" cy="615.5" r="1.3"/><circle cx="330.5" cy="620.5" r="1.3"/><circle cx="313.6" cy="614.0" r="1.3"/><circle cx="326.2" cy="618.8" r="1.3"/><circle cx="327.4" cy="613.2" r="1.3"/><circle cx="321.5" cy="624.3" r="1.3"/><circle cx="318.7" cy="623.0" r="1.3"/><circle cx="320.3" cy="621.5" r="1.3"/><circle cx="323.6" cy="629.8" r="1.3"/></g>
<path d="M321.9,617.8L324.2,614.5L326.8,611.9L333.7,610.2L344.9,608.9L352.8,608.6L355.8,606.6L358.7,608.9L360.5,610.6L369.7,610.6L377.6,610.6L380.9,612.6L383.6,614.5L388.2,614.5L392.1,617.8L396.1,618.8L400.0,618.7L407.9,616.7L411.8,612.1L415.8,616.1L421.1,616.7L426.3,618.0L432.9,615.4L439.5,617.4L443.4,616.1L448.0,614.1L455.3,616.7L460.5,620.7L464.5,617.4L468.4,615.4L472.1,611.3L474.7,613.2L475.8,616.3L477.9,615.8L480.5,613.2L483.9,611.6L487.4,612.9L492.1,613.2L493.9,615.8L494.7,620.0L493.7,625.3L491.1,627.9L487.9,629.2L485.3,627.4L482.1,623.7L479.5,621.1L477.9,623.7L475.8,624.5L473.7,622.1L472.6,620.0L470.0,620.0L463.2,620.0L459.9,623.3L455.3,623.3L452.0,620.7L445.4,623.3L440.8,623.3L436.8,626.6L425.0,626.6L419.7,624.6L415.8,626.6L411.8,623.3L405.3,628.6L400.0,624.6L396.1,627.4L390.8,624.7L387.8,628.0L382.9,625.1L379.9,630.0L376.3,626.0L372.4,627.0L363.2,628.3L350.0,628.7L354.1,629.0L347.5,629.3L339.6,628.0L333.7,626.7L327.8,626.4L325.8,623.1L323.8,620.4Z" fill="#f8f8f8" stroke="#000" stroke-width="2.3" stroke-linejoin="round"/>
<path d="M327.5,615.5L328.4,612.9L333.7,612.2L341.6,610.9L351.5,610.6L350.0,610.9L356.6,610.9L359.2,612.2L368.4,612.6L377.0,612.9L378.9,614.5L379.6,617.8L386.8,618.1L389.5,620.4L392.1,621.8L389.5,623.1L384.2,623.1L380.3,624.4L375.0,625.1L366.4,626.4L350.0,627.0L346.2,627.4L338.3,625.7L331.7,624.4L328.1,621.1Z" fill="#e6e6e6" stroke="#000" stroke-width="2.3" stroke-linejoin="round"/>
<path d="M333.1,619.8L334.0,617.2L338.3,615.8L343.6,616.2L348.8,613.9L355.4,612.9L359.4,614.5L355.9,613.9L359.9,615.5L363.8,618.1L367.1,616.5L371.1,617.2L373.7,619.8L376.0,621.8L372.4,622.8L366.4,623.4L359.9,623.7L350.0,624.4L352.8,624.4L346.2,624.4L339.6,623.1L334.4,622.1Z" fill="#bbb" stroke="#000" stroke-width="2.3" stroke-linejoin="round"/>
<path d="M342.9,620.8L346.9,617.2L351.5,617.5L350.2,620.8L347.5,622.1Z" fill="#444" stroke="#000" stroke-width="1.6" stroke-linejoin="round"/>
<path d="M353.4,621.4L356.1,619.5L359.4,621.4L356.7,622.8Z" fill="#000" stroke="#000" stroke-width="1.6" stroke-linejoin="round"/>
<path d="M333.7,625.7L341.6,627.7L351.5,628.3L362.0,628.0L363.2,627.4L371.7,626.0" fill="none" stroke="#000" stroke-width="2.3" stroke-linejoin="round"/>
<path d="M421.7,622.0L426.3,619.3L434.2,618.7L441.4,622.0L436.8,625.0L426.3,625.3Z" fill="#e2e2e2" stroke="#000" stroke-width="2.3" stroke-linejoin="round"/>
<path d="M446.3,621.3L448.0,619.1L449.7,621.3Z" fill="#fff" stroke="#000" stroke-width="1.8" stroke-linejoin="round"/>
<path d="M464.5,618.0L471.7,614.7L473.0,618.0L465.8,620.0Z" fill="#fff" stroke="#000" stroke-width="1.8" stroke-linejoin="round"/>
<path d="M402.6,624.6L405.3,626.6L403.9,627.9Z" fill="#000" stroke="#000" stroke-width="1.5" stroke-linejoin="round"/>
<path d="M485.8,615.8L487.4,613.8L492.1,613.9L493.8,616.3L494.3,620.0L493.4,624.7L491.1,627.4L487.9,628.4L485.8,626.3L485.0,622.1L485.0,618.4Z" fill="#000" stroke="#000" stroke-width="1.0" stroke-linejoin="round"/>
<ellipse cx="488.0" cy="620.4" rx="1.35" ry="2.7" fill="#858585"/>
<ellipse cx="489.4" cy="620.4" rx="3.0" ry="5.0" fill="none" stroke="#555" stroke-width="0.5"/>
<path d="M480.3,616.6L483.7,617.4L485.8,617.4" fill="none" stroke="#000" stroke-width="2.2" stroke-linejoin="round"/>
<path d="M479.7,617.6L483.2,622.1L487.4,626.1" fill="none" stroke="#000" stroke-width="2.6" stroke-linejoin="round"/>
<path d="M472.1,615.8L473.9,617.4L473.2,619.5" fill="none" stroke="#000" stroke-width="2.0" stroke-linejoin="round"/>
<path d="M481.7,615.4L485.2,613.8L486.4,615.7L484.1,616.6Z" fill="#fafafa" stroke="#000" stroke-width="0" stroke-linejoin="round"/>
<path d="M482.0,619.6L483.6,619.3L485.9,622.5L485.4,623.5Z" fill="#f4f4f4" stroke="#000" stroke-width="0" stroke-linejoin="round"/>
</g>
<g fill="none" stroke="#000" stroke-width="1.5" stroke-linejoin="round">
<path clip-path="url(#cp-h1)" d="M140.50,240.50V231.50H144.50V238.75H148.50V239.50H152.50V239.50H156.50V239.50H160.50V239.50H164.50V239.50H168.50V235.60H172.50V237.10H176.50V233.40H180.50V230.40H184.50V224.60H188.50V213.50H192.50V203.75H196.50V209.40H200.50V200.40H204.50V192.30H208.50V192.30H212.50V177.30H216.50V133.40H220.50V58.50H224.50V66.25H228.50V142.50H232.50V170.40H236.50V84.40H240.50V155.25H244.50V168.10H248.50V196.00H252.50V203.10H256.50V210.25H260.50V240.50"/>
<path clip-path="url(#cp-h2)" d="M310.50,450.50V445.40H314.50V446.25H318.50V433.40H322.50V432.25H326.50V405.40H330.50V376.20H334.50V358.30H338.50V327.50H342.50V321.30H346.50V268.20H350.50V297.10H354.50V278.60H358.50V316.90H362.50V334.30H366.50V355.10H370.50V357.30H374.50V379.40H378.50V392.25H382.50V409.40H386.50V402.50H390.50V425.25H394.50V423.40H398.50V423.40H402.50V414.80H406.50V420.30H410.50V418.20H414.50V416.20H418.50V416.20H422.50V413.30H426.50V410.40H430.50V401.40H434.50V410.40H438.50V422.10H442.50V420.30H446.50V414.50H450.50V424.30H454.50V423.60H458.50V433.30H462.50V432.30H466.50V423.60H470.50V415.50H474.50V424.30H478.50V413.30H482.50V404.10H486.50V344.50H490.50V407.50H494.50V450.50"/>
<path clip-path="url(#cp-h3)" d="M548.60,660.50V650.20H552.64V589.30H556.68V478.20H560.72V517.50H564.76V583.20H568.80V639.20H572.84V656.30H576.88V660.50"/>
</g>
<g fill="none" stroke="#000" stroke-width="1.1">
<rect x="100.5" y="40.5" width="200.0" height="200.0"/>
<rect x="100.5" y="250.5" width="200.0" height="200.0"/>
<rect x="310.5" y="250.5" width="200.0" height="200.0"/>
<rect x="100.5" y="460.5" width="200.0" height="200.0"/>
<rect x="310.5" y="460.5" width="200.0" height="200.0"/>
<rect x="520.5" y="460.5" width="200.0" height="200.0"/>
</g>
<g stroke="#000" stroke-width="1.1">
<line x1="140.5" y1="240.5" x2="140.5" y2="245.4"/>
<line x1="180.5" y1="240.5" x2="180.5" y2="245.4"/>
<line x1="220.5" y1="240.5" x2="220.5" y2="245.4"/>
<line x1="260.5" y1="240.5" x2="260.5" y2="245.4"/>
<line x1="300.5" y1="240.5" x2="300.5" y2="245.4"/>
<line x1="140.5" y1="450.5" x2="140.5" y2="455.4"/>
<line x1="180.5" y1="450.5" x2="180.5" y2="455.4"/>
<line x1="220.5" y1="450.5" x2="220.5" y2="455.4"/>
<line x1="260.5" y1="450.5" x2="260.5" y2="455.4"/>
<line x1="300.5" y1="450.5" x2="300.5" y2="455.4"/>
<line x1="140.5" y1="660.5" x2="140.5" y2="665.4"/>
<line x1="180.5" y1="660.5" x2="180.5" y2="665.4"/>
<line x1="220.5" y1="660.5" x2="220.5" y2="665.4"/>
<line x1="260.5" y1="660.5" x2="260.5" y2="665.4"/>
<line x1="300.5" y1="660.5" x2="300.5" y2="665.4"/>
<line x1="355.5" y1="450.5" x2="355.5" y2="455.4"/>
<line x1="400.6" y1="450.5" x2="400.6" y2="455.4"/>
<line x1="446.5" y1="450.5" x2="446.5" y2="455.4"/>
<line x1="492.5" y1="450.5" x2="492.5" y2="455.4"/>
<line x1="355.5" y1="660.5" x2="355.5" y2="665.4"/>
<line x1="400.6" y1="660.5" x2="400.6" y2="665.4"/>
<line x1="446.5" y1="660.5" x2="446.5" y2="665.4"/>
<line x1="492.5" y1="660.5" x2="492.5" y2="665.4"/>
<line x1="558.6" y1="660.5" x2="558.6" y2="665.4"/>
<line x1="599.4" y1="660.5" x2="599.4" y2="665.4"/>
<line x1="639.9" y1="660.5" x2="639.9" y2="665.4"/>
<line x1="680.5" y1="660.5" x2="680.5" y2="665.4"/>
<line x1="720.5" y1="660.5" x2="720.5" y2="665.4"/>
<line x1="100.5" y1="268.5" x2="95.6" y2="268.5"/>
<line x1="100.5" y1="314.1" x2="95.6" y2="314.1"/>
<line x1="100.5" y1="360.2" x2="95.6" y2="360.2"/>
<line x1="100.5" y1="405.2" x2="95.6" y2="405.2"/>
<line x1="100.5" y1="460.5" x2="95.6" y2="460.5"/>
<line x1="100.5" y1="500.5" x2="95.6" y2="500.5"/>
<line x1="100.5" y1="541.3" x2="95.6" y2="541.3"/>
<line x1="100.5" y1="581.5" x2="95.6" y2="581.5"/>
<line x1="100.5" y1="622.1" x2="95.6" y2="622.1"/>
<line x1="310.5" y1="460.5" x2="305.6" y2="460.5"/>
<line x1="310.5" y1="500.5" x2="305.6" y2="500.5"/>
<line x1="310.5" y1="541.3" x2="305.6" y2="541.3"/>
<line x1="310.5" y1="581.5" x2="305.6" y2="581.5"/>
<line x1="310.5" y1="622.1" x2="305.6" y2="622.1"/>
</g>
<g font-family="'Liberation Serif', 'DejaVu Serif', serif" font-weight="bold" font-size="20.9px" fill="#000">
<text transform="translate(137.60,684.60) rotate(-45)" text-anchor="middle" dominant-baseline="central">0.8</text>
<text transform="translate(177.60,684.60) rotate(-45)" text-anchor="middle" dominant-baseline="central">0.9</text>
<text transform="translate(217.80,685.60) rotate(-45)" text-anchor="middle" dominant-baseline="central">1.0</text>
<text transform="translate(257.60,686.80) rotate(-45)" text-anchor="middle" dominant-baseline="central">1.1</text>
<text transform="translate(297.60,686.80) rotate(-45)" text-anchor="middle" dominant-baseline="central">1.2</text>
<text transform="translate(352.60,684.50) rotate(-45)" text-anchor="middle" dominant-baseline="central">0.5</text>
<text transform="translate(397.90,685.60) rotate(-45)" text-anchor="middle" dominant-baseline="central">1.0</text>
<text transform="translate(443.60,685.60) rotate(-45)" text-anchor="middle" dominant-baseline="central">1.5</text>
<text transform="translate(489.70,685.30) rotate(-45)" text-anchor="middle" dominant-baseline="central">2.0</text>
<text transform="translate(555.70,688.80) rotate(-45)" text-anchor="middle" dominant-baseline="central">0.02</text>
<text transform="translate(596.40,688.80) rotate(-45)" text-anchor="middle" dominant-baseline="central">0.04</text>
<text transform="translate(636.80,688.80) rotate(-45)" text-anchor="middle" dominant-baseline="central">0.06</text>
<text transform="translate(677.20,688.80) rotate(-45)" text-anchor="middle" dominant-baseline="central">0.08</text>
<text transform="translate(717.60,688.80) rotate(-45)" text-anchor="middle" dominant-baseline="central">0.10</text>
<text transform="translate(71.90,276.80) rotate(-45)" text-anchor="middle" dominant-baseline="central">2.0</text>
<text transform="translate(71.10,323.10) rotate(-45)" text-anchor="middle" dominant-baseline="central">1.5</text>
<text transform="translate(71.00,368.50) rotate(-45)" text-anchor="middle" dominant-baseline="central">1.0</text>
<text transform="translate(71.40,414.00) rotate(-45)" text-anchor="middle" dominant-baseline="central">0.5</text>
<text transform="translate(67.30,472.60) rotate(-45)" text-anchor="middle" dominant-baseline="central">0.10</text>
<text transform="translate(67.30,513.00) rotate(-45)" text-anchor="middle" dominant-baseline="central">0.08</text>
<text transform="translate(67.30,553.40) rotate(-45)" text-anchor="middle" dominant-baseline="central">0.06</text>
<text transform="translate(67.30,593.80) rotate(-45)" text-anchor="middle" dominant-baseline="central">0.04</text>
<text transform="translate(67.30,634.20) rotate(-45)" text-anchor="middle" dominant-baseline="central">0.02</text>
</g>
<g transform="translate(189.0,737.7)"><text font-family="'DejaVu Sans', 'Liberation Sans', sans-serif" font-size="20.83px" font-style="italic" fill="#000" transform="scale(1.05,1)" x="0" y="0">B</text><text font-family="'DejaVu Sans', 'Liberation Sans', sans-serif" font-size="15.83px" fill="#000" x="14.80" y="2.9">f</text></g>
<g transform="translate(399.2,737.7)"><text font-family="'DejaVu Sans', 'Liberation Sans', sans-serif" font-size="20.83px" font-style="italic" fill="#000" transform="scale(1.05,1)" x="0" y="0">C</text><text font-family="'DejaVu Sans', 'Liberation Sans', sans-serif" font-size="15.83px" fill="#000" x="14.67" y="2.9">r</text></g>
<g transform="translate(32.6,361.8) rotate(-90)"><text font-family="'DejaVu Sans', 'Liberation Sans', sans-serif" font-size="20.83px" font-style="italic" fill="#000" transform="scale(1.05,1)" x="0" y="0">C</text><text font-family="'DejaVu Sans', 'Liberation Sans', sans-serif" font-size="15.83px" fill="#000" x="15.02" y="3.8">r</text></g>
<text x="620.6" y="736.8" text-anchor="middle" font-family="'DejaVu Serif', 'Liberation Serif', serif" font-weight="bold" font-size="21.5px">err</text>
<text transform="translate(35,561.8) rotate(-90)" text-anchor="middle" font-family="'DejaVu Serif', 'Liberation Serif', serif" font-weight="bold" font-size="21.5px">err</text>
</svg>
</body></html>
